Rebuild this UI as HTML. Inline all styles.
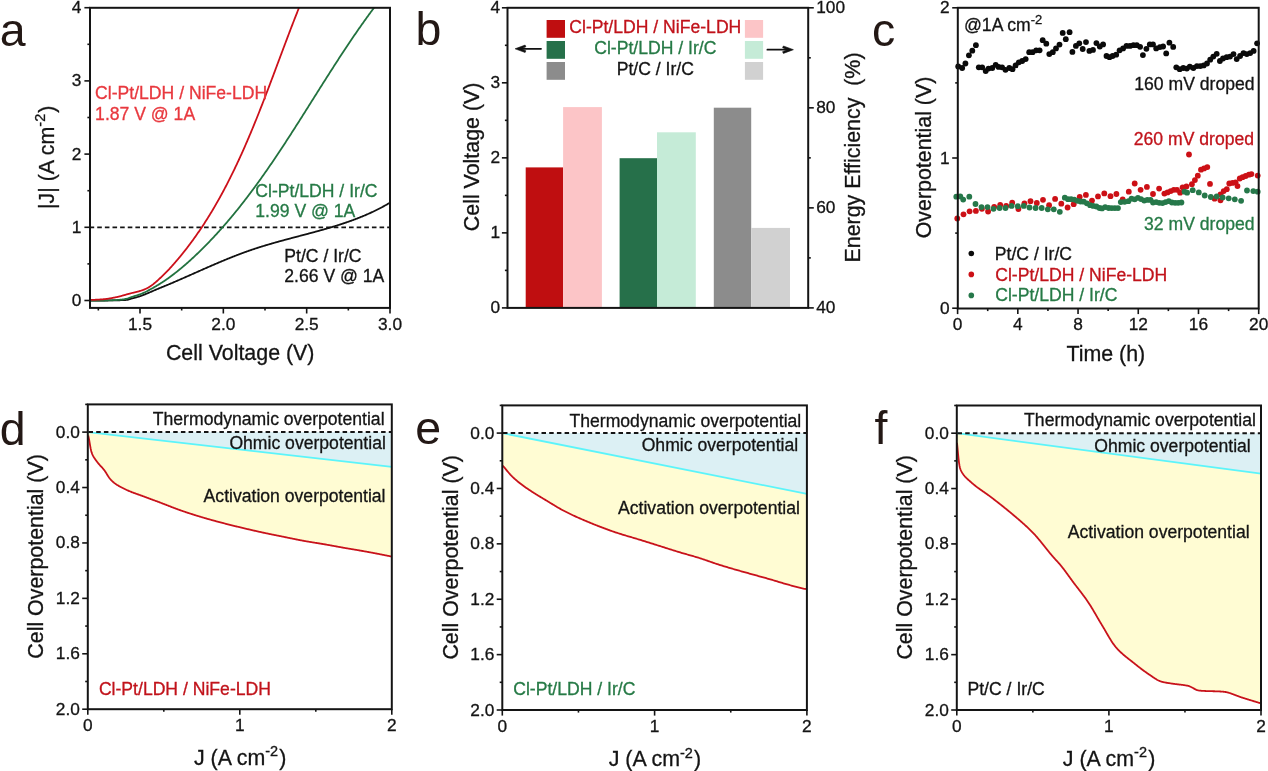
<!DOCTYPE html><html><head><meta charset="utf-8"><style>html,body{margin:0;padding:0;background:#fff;overflow:hidden}svg{display:block;will-change:transform}text{font-family:"Liberation Sans",sans-serif}</style></head><body>
<svg width="1268" height="771" viewBox="0 0 1268 771">
<rect width="1268" height="771" fill="#fff"/>
<text x="-0.3" y="46.1" font-size="46.5" text-anchor="start" fill="#231815" stroke="#231815" stroke-width="0" >a</text>
<line x1="89.6" y1="227.3" x2="390" y2="227.3" stroke="#141414" stroke-width="1.8" stroke-dasharray="4.6 3.03"/>
<defs><clipPath id="ca"><rect x="90" y="7.8" width="300" height="300.1"/></clipPath></defs><g clip-path="url(#ca)">
<path d="M90,300.6 L90.5,300.6 L91,300.6 L91.5,300.6 L92,300.6 L92.5,300.6 L93,300.6 L93.5,300.6 L94,300.6 L94.5,300.6 L95,300.6 L95.5,300.6 L96,300.6 L96.5,300.6 L97,300.6 L97.5,300.59 L98,300.59 L98.5,300.59 L99,300.59 L99.5,300.58 L100,300.58 L100.5,300.57 L101,300.57 L101.5,300.57 L102,300.56 L102.5,300.56 L103,300.55 L103.5,300.54 L104,300.54 L104.5,300.53 L105,300.53 L105.5,300.52 L106,300.51 L106.5,300.5 L107,300.5 L107.5,300.49 L108,300.48 L108.5,300.47 L109,300.46 L109.5,300.45 L110,300.44 L110.5,300.44 L111,300.43 L111.5,300.42 L112,300.41 L112.5,300.4 L113,300.39 L113.5,300.38 L114,300.37 L114.5,300.36 L115,300.35 L115.5,300.33 L116,300.32 L116.5,300.31 L117,300.3 L117.5,300.29 L118,300.28 L118.5,300.27 L119,300.26 L119.5,300.25 L120,300.23 L120.5,300.22 L121,300.21 L121.5,300.19 L122,300.17 L122.5,300.15 L123,300.13 L123.5,300.11 L124,300.09 L124.5,300.06 L125,300.03 L125.5,299.99 L126,299.95 L126.5,299.9 L127,299.83 L127.5,299.75 L128,299.65 L128.5,299.52 L129,299.38 L129.5,299.22 L130,299.06 L130.5,298.89 L131,298.73 L131.5,298.58 L132,298.43 L132.5,298.29 L133,298.16 L133.5,298.04 L134,297.91 L134.5,297.8 L135,297.68 L135.5,297.55 L136,297.41 L136.5,297.28 L137,297.14 L137.5,297 L138,296.86 L138.5,296.71 L139,296.56 L139.5,296.4 L140,296.24 L140.5,296.07 L141,295.89 L141.5,295.72 L142,295.53 L142.5,295.34 L143,295.15 L143.5,294.96 L144,294.76 L144.5,294.56 L145,294.35 L145.5,294.15 L146,293.94 L146.5,293.73 L147,293.52 L147.5,293.31 L148,293.1 L148.5,292.88 L149,292.67 L149.5,292.46 L150,292.24 L150.5,292.03 L151,291.81 L151.5,291.6 L152,291.38 L152.5,291.17 L153,290.95 L153.5,290.74 L154,290.52 L154.5,290.3 L155,290.09 L155.5,289.87 L156,289.65 L156.5,289.44 L157,289.22 L157.5,289.01 L158,288.8 L158.5,288.58 L159,288.37 L159.5,288.17 L160,287.96 L160.5,287.75 L161,287.55 L161.5,287.35 L162,287.15 L162.5,286.95 L163,286.75 L163.5,286.55 L164,286.35 L164.5,286.15 L165,285.95 L165.5,285.75 L166,285.54 L166.5,285.33 L167,285.13 L167.5,284.92 L168,284.71 L168.5,284.5 L169,284.29 L169.5,284.07 L170,283.86 L170.5,283.65 L171,283.44 L171.5,283.23 L172,283.01 L172.5,282.8 L173,282.58 L173.5,282.37 L174,282.15 L174.5,281.94 L175,281.72 L175.5,281.51 L176,281.29 L176.5,281.07 L177,280.86 L177.5,280.64 L178,280.42 L178.5,280.21 L179,279.99 L179.5,279.77 L180,279.55 L180.5,279.33 L181,279.11 L181.5,278.89 L182,278.68 L182.5,278.46 L183,278.24 L183.5,278.02 L184,277.8 L184.5,277.58 L185,277.36 L185.5,277.14 L186,276.91 L186.5,276.69 L187,276.47 L187.5,276.25 L188,276.03 L188.5,275.81 L189,275.59 L189.5,275.37 L190,275.14 L190.5,274.92 L191,274.7 L191.5,274.48 L192,274.26 L192.5,274.04 L193,273.81 L193.5,273.59 L194,273.37 L194.5,273.15 L195,272.93 L195.5,272.71 L196,272.48 L196.5,272.26 L197,272.04 L197.5,271.82 L198,271.6 L198.5,271.38 L199,271.15 L199.5,270.93 L200,270.71 L200.5,270.49 L201,270.27 L201.5,270.05 L202,269.83 L202.5,269.61 L203,269.39 L203.5,269.16 L204,268.94 L204.5,268.72 L205,268.5 L205.5,268.28 L206,268.06 L206.5,267.85 L207,267.63 L207.5,267.41 L208,267.19 L208.5,266.97 L209,266.75 L209.5,266.53 L210,266.32 L210.5,266.1 L211,265.88 L211.5,265.66 L212,265.45 L212.5,265.23 L213,265.01 L213.5,264.8 L214,264.58 L214.5,264.37 L215,264.15 L215.5,263.94 L216,263.72 L216.5,263.51 L217,263.3 L217.5,263.08 L218,262.87 L218.5,262.66 L219,262.45 L219.5,262.23 L220,262.02 L220.5,261.81 L221,261.6 L221.5,261.39 L222,261.18 L222.5,260.97 L223,260.76 L223.5,260.56 L224,260.35 L224.5,260.14 L225,259.94 L225.5,259.73 L226,259.52 L226.5,259.32 L227,259.11 L227.5,258.91 L228,258.71 L228.5,258.5 L229,258.3 L229.5,258.1 L230,257.9 L230.5,257.7 L231,257.5 L231.5,257.3 L232,257.1 L232.5,256.9 L233,256.7 L233.5,256.5 L234,256.31 L234.5,256.11 L235,255.91 L235.5,255.72 L236,255.53 L236.5,255.33 L237,255.14 L237.5,254.95 L238,254.75 L238.5,254.56 L239,254.37 L239.5,254.18 L240,254 L240.5,253.81 L241,253.62 L241.5,253.43 L242,253.25 L242.5,253.06 L243,252.88 L243.5,252.69 L244,252.51 L244.5,252.33 L245,252.15 L245.5,251.97 L246,251.79 L246.5,251.61 L247,251.43 L247.5,251.25 L248,251.07 L248.5,250.9 L249,250.72 L249.5,250.55 L250,250.38 L250.5,250.2 L251,250.03 L251.5,249.86 L252,249.69 L252.5,249.52 L253,249.35 L253.5,249.18 L254,249.02 L254.5,248.85 L255,248.69 L255.5,248.52 L256,248.36 L256.5,248.2 L257,248.03 L257.5,247.87 L258,247.71 L258.5,247.55 L259,247.39 L259.5,247.23 L260,247.08 L260.5,246.92 L261,246.76 L261.5,246.61 L262,246.45 L262.5,246.3 L263,246.14 L263.5,245.99 L264,245.84 L264.5,245.68 L265,245.53 L265.5,245.38 L266,245.23 L266.5,245.08 L267,244.93 L267.5,244.78 L268,244.64 L268.5,244.49 L269,244.34 L269.5,244.19 L270,244.05 L270.5,243.9 L271,243.76 L271.5,243.61 L272,243.47 L272.5,243.32 L273,243.18 L273.5,243.04 L274,242.9 L274.5,242.75 L275,242.61 L275.5,242.47 L276,242.33 L276.5,242.19 L277,242.05 L277.5,241.91 L278,241.77 L278.5,241.63 L279,241.49 L279.5,241.36 L280,241.22 L280.5,241.08 L281,240.94 L281.5,240.81 L282,240.67 L282.5,240.53 L283,240.4 L283.5,240.26 L284,240.13 L284.5,239.99 L285,239.86 L285.5,239.72 L286,239.59 L286.5,239.45 L287,239.32 L287.5,239.18 L288,239.05 L288.5,238.92 L289,238.78 L289.5,238.65 L290,238.52 L290.5,238.38 L291,238.25 L291.5,238.12 L292,237.98 L292.5,237.85 L293,237.72 L293.5,237.59 L294,237.46 L294.5,237.32 L295,237.19 L295.5,237.06 L296,236.93 L296.5,236.8 L297,236.66 L297.5,236.53 L298,236.4 L298.5,236.27 L299,236.14 L299.5,236 L300,235.87 L300.5,235.74 L301,235.61 L301.5,235.48 L302,235.35 L302.5,235.21 L303,235.08 L303.5,234.95 L304,234.82 L304.5,234.68 L305,234.55 L305.5,234.42 L306,234.29 L306.5,234.15 L307,234.02 L307.5,233.89 L308,233.76 L308.5,233.62 L309,233.49 L309.5,233.36 L310,233.22 L310.5,233.09 L311,232.95 L311.5,232.82 L312,232.68 L312.5,232.55 L313,232.41 L313.5,232.28 L314,232.14 L314.5,232.01 L315,231.87 L315.5,231.74 L316,231.6 L316.5,231.46 L317,231.33 L317.5,231.19 L318,231.05 L318.5,230.91 L319,230.77 L319.5,230.63 L320,230.49 L320.5,230.36 L321,230.22 L321.5,230.08 L322,229.93 L322.5,229.79 L323,229.65 L323.5,229.51 L324,229.37 L324.5,229.22 L325,229.08 L325.5,228.94 L326,228.79 L326.5,228.65 L327,228.5 L327.5,228.36 L328,228.21 L328.5,228.07 L329,227.92 L329.5,227.77 L330,227.62 L330.5,227.47 L331,227.32 L331.5,227.17 L332,227.02 L332.5,226.87 L333,226.72 L333.5,226.57 L334,226.42 L334.5,226.26 L335,226.11 L335.5,225.95 L336,225.8 L336.5,225.64 L337,225.49 L337.5,225.33 L338,225.17 L338.5,225.01 L339,224.85 L339.5,224.69 L340,224.53 L340.5,224.37 L341,224.21 L341.5,224.04 L342,223.88 L342.5,223.71 L343,223.55 L343.5,223.38 L344,223.22 L344.5,223.05 L345,222.88 L345.5,222.71 L346,222.54 L346.5,222.37 L347,222.19 L347.5,222.02 L348,221.85 L348.5,221.67 L349,221.5 L349.5,221.32 L350,221.14 L350.5,220.96 L351,220.78 L351.5,220.6 L352,220.42 L352.5,220.24 L353,220.05 L353.5,219.87 L354,219.68 L354.5,219.5 L355,219.31 L355.5,219.12 L356,218.93 L356.5,218.74 L357,218.54 L357.5,218.35 L358,218.16 L358.5,217.96 L359,217.76 L359.5,217.56 L360,217.36 L360.5,217.16 L361,216.96 L361.5,216.76 L362,216.55 L362.5,216.35 L363,216.14 L363.5,215.93 L364,215.72 L364.5,215.51 L365,215.3 L365.5,215.09 L366,214.87 L366.5,214.66 L367,214.44 L367.5,214.22 L368,214 L368.5,213.78 L369,213.55 L369.5,213.33 L370,213.1 L370.5,212.88 L371,212.65 L371.5,212.42 L372,212.18 L372.5,211.95 L373,211.71 L373.5,211.48 L374,211.24 L374.5,211 L375,210.76 L375.5,210.51 L376,210.27 L376.5,210.02 L377,209.77 L377.5,209.52 L378,209.27 L378.5,209.02 L379,208.76 L379.5,208.5 L380,208.24 L380.5,207.98 L381,207.72 L381.5,207.46 L382,207.19 L382.5,206.92 L383,206.65 L383.5,206.38 L384,206.1 L384.5,205.83 L385,205.55 L385.5,205.27 L386,204.99 L386.5,204.7 L387,204.42 L387.5,204.13 L388,203.84 L388.5,203.54 L389,203.25 L389.5,202.95 L390,202.65 L390.5,202.35 L391,202.05 L391.5,201.74 L392,201.43 L392.5,201.12 L393,200.81 L393.5,200.49 L394,200.18 L394.5,199.85 L395,199.53 L395.5,199.21 L396,198.88 L396.5,198.55 L397,198.22 L397.5,197.88 L398,197.54 L398.5,197.2 L399,196.86 L399.5,196.51 L400,196.17 L400.5,195.81 L401,195.46 L401.5,195.1 L402,194.74" fill="none" stroke="#111" stroke-width="1.8" stroke-linejoin="round"/>
<path d="M90,300.6 L90.5,300.6 L91,300.6 L91.5,300.6 L92,300.6 L92.5,300.6 L93,300.6 L93.5,300.6 L94,300.6 L94.5,300.6 L95,300.6 L95.5,300.6 L96,300.6 L96.5,300.59 L97,300.59 L97.5,300.59 L98,300.58 L98.5,300.58 L99,300.58 L99.5,300.57 L100,300.56 L100.5,300.56 L101,300.55 L101.5,300.54 L102,300.53 L102.5,300.53 L103,300.52 L103.5,300.51 L104,300.5 L104.5,300.49 L105,300.48 L105.5,300.46 L106,300.45 L106.5,300.44 L107,300.43 L107.5,300.41 L108,300.4 L108.5,300.39 L109,300.37 L109.5,300.36 L110,300.35 L110.5,300.33 L111,300.31 L111.5,300.3 L112,300.28 L112.5,300.26 L113,300.24 L113.5,300.22 L114,300.2 L114.5,300.17 L115,300.14 L115.5,300.11 L116,300.08 L116.5,300.05 L117,300.01 L117.5,299.97 L118,299.94 L118.5,299.89 L119,299.85 L119.5,299.81 L120,299.76 L120.5,299.71 L121,299.66 L121.5,299.61 L122,299.55 L122.5,299.49 L123,299.43 L123.5,299.35 L124,299.28 L124.5,299.19 L125,299.1 L125.5,299 L126,298.89 L126.5,298.77 L127,298.64 L127.5,298.5 L128,298.35 L128.5,298.18 L129,298 L129.5,297.82 L130,297.63 L130.5,297.45 L131,297.27 L131.5,297.09 L132,296.92 L132.5,296.75 L133,296.59 L133.5,296.43 L134,296.28 L134.5,296.12 L135,295.97 L135.5,295.82 L136,295.67 L136.5,295.51 L137,295.36 L137.5,295.2 L138,295.04 L138.5,294.87 L139,294.7 L139.5,294.53 L140,294.35 L140.5,294.16 L141,293.97 L141.5,293.77 L142,293.56 L142.5,293.35 L143,293.13 L143.5,292.91 L144,292.68 L144.5,292.45 L145,292.21 L145.5,291.96 L146,291.7 L146.5,291.45 L147,291.19 L147.5,290.92 L148,290.66 L148.5,290.39 L149,290.12 L149.5,289.85 L150,289.58 L150.5,289.31 L151,289.03 L151.5,288.76 L152,288.48 L152.5,288.2 L153,287.92 L153.5,287.64 L154,287.36 L154.5,287.07 L155,286.78 L155.5,286.49 L156,286.19 L156.5,285.89 L157,285.59 L157.5,285.29 L158,284.99 L158.5,284.68 L159,284.37 L159.5,284.06 L160,283.75 L160.5,283.43 L161,283.11 L161.5,282.79 L162,282.47 L162.5,282.14 L163,281.82 L163.5,281.49 L164,281.16 L164.5,280.82 L165,280.48 L165.5,280.14 L166,279.8 L166.5,279.45 L167,279.11 L167.5,278.75 L168,278.4 L168.5,278.04 L169,277.68 L169.5,277.32 L170,276.96 L170.5,276.59 L171,276.22 L171.5,275.84 L172,275.47 L172.5,275.09 L173,274.71 L173.5,274.32 L174,273.93 L174.5,273.54 L175,273.15 L175.5,272.76 L176,272.37 L176.5,271.98 L177,271.58 L177.5,271.19 L178,270.79 L178.5,270.38 L179,269.98 L179.5,269.57 L180,269.16 L180.5,268.75 L181,268.34 L181.5,267.92 L182,267.5 L182.5,267.08 L183,266.66 L183.5,266.23 L184,265.81 L184.5,265.38 L185,264.95 L185.5,264.51 L186,264.08 L186.5,263.64 L187,263.2 L187.5,262.76 L188,262.31 L188.5,261.87 L189,261.42 L189.5,260.97 L190,260.52 L190.5,260.07 L191,259.61 L191.5,259.15 L192,258.69 L192.5,258.23 L193,257.77 L193.5,257.3 L194,256.84 L194.5,256.37 L195,255.9 L195.5,255.43 L196,254.95 L196.5,254.48 L197,254 L197.5,253.52 L198,253.04 L198.5,252.56 L199,252.08 L199.5,251.59 L200,251.1 L200.5,250.62 L201,250.13 L201.5,249.63 L202,249.14 L202.5,248.64 L203,248.15 L203.5,247.65 L204,247.15 L204.5,246.64 L205,246.14 L205.5,245.63 L206,245.13 L206.5,244.62 L207,244.11 L207.5,243.59 L208,243.08 L208.5,242.56 L209,242.05 L209.5,241.53 L210,241 L210.5,240.48 L211,239.96 L211.5,239.43 L212,238.9 L212.5,238.37 L213,237.84 L213.5,237.3 L214,236.77 L214.5,236.23 L215,235.69 L215.5,235.15 L216,234.61 L216.5,234.06 L217,233.52 L217.5,232.97 L218,232.42 L218.5,231.87 L219,231.31 L219.5,230.76 L220,230.2 L220.5,229.64 L221,229.08 L221.5,228.52 L222,227.96 L222.5,227.39 L223,226.82 L223.5,226.25 L224,225.68 L224.5,225.11 L225,224.53 L225.5,223.96 L226,223.38 L226.5,222.8 L227,222.21 L227.5,221.63 L228,221.04 L228.5,220.46 L229,219.87 L229.5,219.28 L230,218.68 L230.5,218.09 L231,217.49 L231.5,216.89 L232,216.29 L232.5,215.69 L233,215.09 L233.5,214.48 L234,213.87 L234.5,213.26 L235,212.65 L235.5,212.04 L236,211.43 L236.5,210.81 L237,210.19 L237.5,209.57 L238,208.95 L238.5,208.33 L239,207.7 L239.5,207.07 L240,206.44 L240.5,205.81 L241,205.18 L241.5,204.55 L242,203.91 L242.5,203.27 L243,202.63 L243.5,201.99 L244,201.35 L244.5,200.7 L245,200.06 L245.5,199.41 L246,198.76 L246.5,198.11 L247,197.45 L247.5,196.8 L248,196.14 L248.5,195.48 L249,194.82 L249.5,194.16 L250,193.49 L250.5,192.83 L251,192.16 L251.5,191.49 L252,190.82 L252.5,190.15 L253,189.47 L253.5,188.8 L254,188.12 L254.5,187.44 L255,186.76 L255.5,186.08 L256,185.39 L256.5,184.71 L257,184.02 L257.5,183.33 L258,182.64 L258.5,181.95 L259,181.25 L259.5,180.56 L260,179.86 L260.5,179.16 L261,178.46 L261.5,177.76 L262,177.06 L262.5,176.35 L263,175.64 L263.5,174.94 L264,174.23 L264.5,173.51 L265,172.8 L265.5,172.09 L266,171.37 L266.5,170.65 L267,169.93 L267.5,169.21 L268,168.49 L268.5,167.77 L269,167.04 L269.5,166.32 L270,165.59 L270.5,164.86 L271,164.13 L271.5,163.4 L272,162.67 L272.5,161.93 L273,161.2 L273.5,160.46 L274,159.72 L274.5,158.98 L275,158.24 L275.5,157.5 L276,156.75 L276.5,156.01 L277,155.26 L277.5,154.51 L278,153.77 L278.5,153.02 L279,152.26 L279.5,151.51 L280,150.76 L280.5,150 L281,149.25 L281.5,148.49 L282,147.73 L282.5,146.97 L283,146.21 L283.5,145.45 L284,144.69 L284.5,143.93 L285,143.16 L285.5,142.39 L286,141.63 L286.5,140.86 L287,140.09 L287.5,139.32 L288,138.55 L288.5,137.78 L289,137.01 L289.5,136.23 L290,135.46 L290.5,134.69 L291,133.91 L291.5,133.13 L292,132.36 L292.5,131.58 L293,130.8 L293.5,130.02 L294,129.24 L294.5,128.46 L295,127.68 L295.5,126.89 L296,126.11 L296.5,125.33 L297,124.54 L297.5,123.76 L298,122.97 L298.5,122.18 L299,121.4 L299.5,120.61 L300,119.82 L300.5,119.03 L301,118.24 L301.5,117.45 L302,116.66 L302.5,115.87 L303,115.08 L303.5,114.29 L304,113.5 L304.5,112.71 L305,111.92 L305.5,111.12 L306,110.33 L306.5,109.54 L307,108.75 L307.5,107.95 L308,107.16 L308.5,106.36 L309,105.57 L309.5,104.78 L310,103.98 L310.5,103.19 L311,102.39 L311.5,101.6 L312,100.8 L312.5,100.01 L313,99.21 L313.5,98.42 L314,97.62 L314.5,96.83 L315,96.03 L315.5,95.24 L316,94.45 L316.5,93.65 L317,92.86 L317.5,92.06 L318,91.27 L318.5,90.48 L319,89.68 L319.5,88.89 L320,88.1 L320.5,87.3 L321,86.51 L321.5,85.72 L322,84.93 L322.5,84.14 L323,83.35 L323.5,82.56 L324,81.77 L324.5,80.98 L325,80.19 L325.5,79.4 L326,78.61 L326.5,77.82 L327,77.04 L327.5,76.25 L328,75.47 L328.5,74.68 L329,73.9 L329.5,73.11 L330,72.33 L330.5,71.55 L331,70.76 L331.5,69.98 L332,69.2 L332.5,68.42 L333,67.64 L333.5,66.87 L334,66.09 L334.5,65.31 L335,64.54 L335.5,63.76 L336,62.99 L336.5,62.21 L337,61.44 L337.5,60.67 L338,59.9 L338.5,59.13 L339,58.36 L339.5,57.59 L340,56.83 L340.5,56.06 L341,55.3 L341.5,54.53 L342,53.77 L342.5,53.01 L343,52.25 L343.5,51.49 L344,50.73 L344.5,49.98 L345,49.22 L345.5,48.47 L346,47.71 L346.5,46.96 L347,46.21 L347.5,45.46 L348,44.71 L348.5,43.97 L349,43.22 L349.5,42.47 L350,41.73 L350.5,40.99 L351,40.25 L351.5,39.51 L352,38.77 L352.5,38.04 L353,37.3 L353.5,36.57 L354,35.83 L354.5,35.1 L355,34.37 L355.5,33.65 L356,32.92 L356.5,32.19 L357,31.47 L357.5,30.75 L358,30.03 L358.5,29.31 L359,28.59 L359.5,27.87 L360,27.16 L360.5,26.44 L361,25.73 L361.5,25.02 L362,24.31 L362.5,23.61 L363,22.9 L363.5,22.2 L364,21.5 L364.5,20.79 L365,20.1 L365.5,19.4 L366,18.7 L366.5,18.01 L367,17.32 L367.5,16.63 L368,15.94 L368.5,15.25 L369,14.56 L369.5,13.88 L370,13.2 L370.5,12.52 L371,11.84 L371.5,11.16 L372,10.48 L372.5,9.81 L373,9.14 L373.5,8.47 L374,7.8 L374.5,7.13 L375,6.47 L375.5,5.8 L376,5.14 L376.5,4.48 L377,3.82 L377.5,3.17 L378,2.51 L378.5,1.86 L379,1.21 L379.5,0.56 L380,-0.09 L380.5,-0.73 L381,-1.38 L381.5,-2.02 L382,-2.66 L382.5,-3.3 L383,-3.93 L383.5,-4.57 L384,-5.2 L384.5,-5.83 L385,-6.46" fill="none" stroke="#22723f" stroke-width="1.8" stroke-linejoin="round"/>
<path d="M90,299.98 L90.5,299.97 L91,299.96 L91.5,299.94 L92,299.93 L92.5,299.91 L93,299.89 L93.5,299.87 L94,299.84 L94.5,299.82 L95,299.8 L95.5,299.77 L96,299.75 L96.5,299.72 L97,299.69 L97.5,299.66 L98,299.63 L98.5,299.6 L99,299.57 L99.5,299.54 L100,299.5 L100.5,299.47 L101,299.43 L101.5,299.4 L102,299.36 L102.5,299.32 L103,299.28 L103.5,299.23 L104,299.19 L104.5,299.14 L105,299.09 L105.5,299.04 L106,298.98 L106.5,298.92 L107,298.86 L107.5,298.79 L108,298.71 L108.5,298.64 L109,298.55 L109.5,298.47 L110,298.38 L110.5,298.3 L111,298.21 L111.5,298.12 L112,298.02 L112.5,297.93 L113,297.84 L113.5,297.74 L114,297.64 L114.5,297.54 L115,297.44 L115.5,297.34 L116,297.23 L116.5,297.12 L117,297.01 L117.5,296.9 L118,296.78 L118.5,296.66 L119,296.54 L119.5,296.41 L120,296.28 L120.5,296.16 L121,296.02 L121.5,295.89 L122,295.75 L122.5,295.62 L123,295.48 L123.5,295.34 L124,295.19 L124.5,295.05 L125,294.9 L125.5,294.76 L126,294.61 L126.5,294.47 L127,294.32 L127.5,294.18 L128,294.04 L128.5,293.9 L129,293.77 L129.5,293.64 L130,293.51 L130.5,293.38 L131,293.25 L131.5,293.13 L132,293 L132.5,292.88 L133,292.76 L133.5,292.64 L134,292.52 L134.5,292.4 L135,292.28 L135.5,292.16 L136,292.03 L136.5,291.91 L137,291.78 L137.5,291.66 L138,291.53 L138.5,291.4 L139,291.27 L139.5,291.13 L140,290.98 L140.5,290.83 L141,290.68 L141.5,290.51 L142,290.34 L142.5,290.16 L143,289.98 L143.5,289.79 L144,289.59 L144.5,289.39 L145,289.18 L145.5,288.95 L146,288.72 L146.5,288.48 L147,288.23 L147.5,287.97 L148,287.7 L148.5,287.42 L149,287.13 L149.5,286.83 L150,286.51 L150.5,286.18 L151,285.84 L151.5,285.49 L152,285.12 L152.5,284.75 L153,284.37 L153.5,283.97 L154,283.57 L154.5,283.16 L155,282.74 L155.5,282.32 L156,281.89 L156.5,281.45 L157,281.01 L157.5,280.56 L158,280.11 L158.5,279.65 L159,279.18 L159.5,278.71 L160,278.24 L160.5,277.76 L161,277.28 L161.5,276.79 L162,276.31 L162.5,275.84 L163,275.37 L163.5,274.89 L164,274.41 L164.5,273.92 L165,273.42 L165.5,272.92 L166,272.42 L166.5,271.91 L167,271.4 L167.5,270.88 L168,270.35 L168.5,269.83 L169,269.29 L169.5,268.76 L170,268.22 L170.5,267.67 L171,267.12 L171.5,266.57 L172,266.01 L172.5,265.45 L173,264.89 L173.5,264.32 L174,263.76 L174.5,263.18 L175,262.61 L175.5,262.03 L176,261.45 L176.5,260.87 L177,260.28 L177.5,259.69 L178,259.1 L178.5,258.51 L179,257.91 L179.5,257.31 L180,256.71 L180.5,256.1 L181,255.49 L181.5,254.88 L182,254.26 L182.5,253.64 L183,253.02 L183.5,252.4 L184,251.77 L184.5,251.14 L185,250.5 L185.5,249.87 L186,249.23 L186.5,248.58 L187,247.94 L187.5,247.29 L188,246.63 L188.5,245.98 L189,245.32 L189.5,244.65 L190,243.99 L190.5,243.32 L191,242.65 L191.5,241.97 L192,241.29 L192.5,240.61 L193,239.92 L193.5,239.23 L194,238.54 L194.5,237.84 L195,237.14 L195.5,236.43 L196,235.73 L196.5,235.01 L197,234.3 L197.5,233.58 L198,232.86 L198.5,232.13 L199,231.4 L199.5,230.67 L200,229.94 L200.5,229.19 L201,228.45 L201.5,227.7 L202,226.95 L202.5,226.2 L203,225.44 L203.5,224.67 L204,223.91 L204.5,223.14 L205,222.36 L205.5,221.58 L206,220.8 L206.5,220.01 L207,219.22 L207.5,218.43 L208,217.63 L208.5,216.83 L209,216.02 L209.5,215.21 L210,214.39 L210.5,213.57 L211,212.75 L211.5,211.92 L212,211.09 L212.5,210.26 L213,209.42 L213.5,208.57 L214,207.72 L214.5,206.87 L215,206.01 L215.5,205.15 L216,204.29 L216.5,203.42 L217,202.54 L217.5,201.66 L218,200.78 L218.5,199.89 L219,199 L219.5,198.1 L220,197.2 L220.5,196.3 L221,195.39 L221.5,194.47 L222,193.55 L222.5,192.63 L223,191.7 L223.5,190.77 L224,189.83 L224.5,188.89 L225,187.94 L225.5,186.99 L226,186.04 L226.5,185.07 L227,184.11 L227.5,183.14 L228,182.16 L228.5,181.18 L229,180.2 L229.5,179.21 L230,178.22 L230.5,177.22 L231,176.21 L231.5,175.21 L232,174.19 L232.5,173.17 L233,172.15 L233.5,171.12 L234,170.09 L234.5,169.05 L235,168.01 L235.5,166.97 L236,165.91 L236.5,164.86 L237,163.8 L237.5,162.73 L238,161.66 L238.5,160.58 L239,159.5 L239.5,158.42 L240,157.33 L240.5,156.23 L241,155.13 L241.5,154.02 L242,152.92 L242.5,151.8 L243,150.68 L243.5,149.56 L244,148.43 L244.5,147.29 L245,146.16 L245.5,145.01 L246,143.87 L246.5,142.71 L247,141.56 L247.5,140.39 L248,139.23 L248.5,138.06 L249,136.88 L249.5,135.7 L250,134.52 L250.5,133.33 L251,132.14 L251.5,130.94 L252,129.74 L252.5,128.53 L253,127.32 L253.5,126.11 L254,124.89 L254.5,123.66 L255,122.44 L255.5,121.21 L256,119.97 L256.5,118.73 L257,117.49 L257.5,116.24 L258,114.99 L258.5,113.74 L259,112.48 L259.5,111.22 L260,109.95 L260.5,108.68 L261,107.41 L261.5,106.13 L262,104.86 L262.5,103.57 L263,102.29 L263.5,101 L264,99.71 L264.5,98.42 L265,97.12 L265.5,95.82 L266,94.52 L266.5,93.21 L267,91.91 L267.5,90.6 L268,89.28 L268.5,87.97 L269,86.65 L269.5,85.34 L270,84.02 L270.5,82.69 L271,81.37 L271.5,80.05 L272,78.72 L272.5,77.39 L273,76.06 L273.5,74.73 L274,73.4 L274.5,72.07 L275,70.73 L275.5,69.4 L276,68.06 L276.5,66.73 L277,65.39 L277.5,64.05 L278,62.72 L278.5,61.38 L279,60.04 L279.5,58.71 L280,57.37 L280.5,56.03 L281,54.7 L281.5,53.36 L282,52.03 L282.5,50.69 L283,49.36 L283.5,48.03 L284,46.7 L284.5,45.37 L285,44.04 L285.5,42.71 L286,41.38 L286.5,40.06 L287,38.74 L287.5,37.42 L288,36.1 L288.5,34.78 L289,33.47 L289.5,32.16 L290,30.85 L290.5,29.54 L291,28.23 L291.5,26.93 L292,25.63 L292.5,24.33 L293,23.04 L293.5,21.75 L294,20.46 L294.5,19.18 L295,17.9 L295.5,16.62 L296,15.34 L296.5,14.07 L297,12.81 L297.5,11.54 L298,10.28 L298.5,9.03 L299,7.77 L299.5,6.53 L300,5.28 L300.5,4.04 L301,2.81 L301.5,1.58 L302,0.35 L302.5,-0.88 L303,-2.09 L303.5,-3.31 L304,-4.52 L304.5,-5.72 L305,-6.92" fill="none" stroke="#cc101a" stroke-width="1.8" stroke-linejoin="round"/>
</g>
<rect x="90" y="7.8" width="300" height="300.1" fill="none" stroke="#141414" stroke-width="2"/>
<line x1="90" y1="300.5" x2="84.4" y2="300.5" stroke="#141414" stroke-width="1.6" />
<text x="81.3" y="306" font-size="17.3" text-anchor="end" fill="#141414" stroke="#141414" stroke-width="0.3" >0</text>
<line x1="90" y1="227.3" x2="84.4" y2="227.3" stroke="#141414" stroke-width="1.6" />
<text x="81.3" y="232.8" font-size="17.3" text-anchor="end" fill="#141414" stroke="#141414" stroke-width="0.3" >1</text>
<line x1="90" y1="154.1" x2="84.4" y2="154.1" stroke="#141414" stroke-width="1.6" />
<text x="81.3" y="159.6" font-size="17.3" text-anchor="end" fill="#141414" stroke="#141414" stroke-width="0.3" >2</text>
<line x1="90" y1="80.9" x2="84.4" y2="80.9" stroke="#141414" stroke-width="1.6" />
<text x="81.3" y="86.4" font-size="17.3" text-anchor="end" fill="#141414" stroke="#141414" stroke-width="0.3" >3</text>
<line x1="90" y1="7.7" x2="84.4" y2="7.7" stroke="#141414" stroke-width="1.6" />
<text x="81.3" y="13.2" font-size="17.3" text-anchor="end" fill="#141414" stroke="#141414" stroke-width="0.3" >4</text>
<line x1="90" y1="263.9" x2="87.4" y2="263.9" stroke="#141414" stroke-width="1.6" />
<line x1="90" y1="190.7" x2="87.4" y2="190.7" stroke="#141414" stroke-width="1.6" />
<line x1="90" y1="117.5" x2="87.4" y2="117.5" stroke="#141414" stroke-width="1.6" />
<line x1="90" y1="44.3" x2="87.4" y2="44.3" stroke="#141414" stroke-width="1.6" />
<line x1="140" y1="307.9" x2="140" y2="313.5" stroke="#141414" stroke-width="1.6" />
<text x="140" y="329.6" font-size="17.3" text-anchor="middle" fill="#141414" stroke="#141414" stroke-width="0.3" >1.5</text>
<line x1="223.33" y1="307.9" x2="223.33" y2="313.5" stroke="#141414" stroke-width="1.6" />
<text x="223.33" y="329.6" font-size="17.3" text-anchor="middle" fill="#141414" stroke="#141414" stroke-width="0.3" >2.0</text>
<line x1="306.67" y1="307.9" x2="306.67" y2="313.5" stroke="#141414" stroke-width="1.6" />
<text x="306.67" y="329.6" font-size="17.3" text-anchor="middle" fill="#141414" stroke="#141414" stroke-width="0.3" >2.5</text>
<line x1="390" y1="307.9" x2="390" y2="313.5" stroke="#141414" stroke-width="1.6" />
<text x="390" y="329.6" font-size="17.3" text-anchor="middle" fill="#141414" stroke="#141414" stroke-width="0.3" >3.0</text>
<line x1="98.33" y1="307.9" x2="98.33" y2="310.5" stroke="#141414" stroke-width="1.6" />
<line x1="181.67" y1="307.9" x2="181.67" y2="310.5" stroke="#141414" stroke-width="1.6" />
<line x1="265" y1="307.9" x2="265" y2="310.5" stroke="#141414" stroke-width="1.6" />
<line x1="348.33" y1="307.9" x2="348.33" y2="310.5" stroke="#141414" stroke-width="1.6" />
<text x="240.2" y="360.2" font-size="21.4" text-anchor="middle" fill="#141414" stroke="#141414" stroke-width="0.3" >Cell Voltage (V)</text>
<text transform="translate(53.6,209.1) rotate(-90)" font-size="21.4" text-anchor="start" fill="#141414" stroke="#141414" stroke-width="0.3">|J| (A cm<tspan font-size="14.5" dy="-9">-2</tspan><tspan dy="9" dx="1">)</tspan></text>
<text x="95.1" y="99.4" font-size="17.6" text-anchor="start" fill="#e8383e" stroke="#e8383e" stroke-width="0.3" >Cl-Pt/LDH / NiFe-LDH</text>
<text x="95.1" y="120.1" font-size="17.6" text-anchor="start" fill="#e8383e" stroke="#e8383e" stroke-width="0.3" >1.87 V @ 1A</text>
<text x="255.3" y="196.9" font-size="17.6" text-anchor="start" fill="#267a46" stroke="#267a46" stroke-width="0.3" >Cl-Pt/LDH / Ir/C</text>
<text x="255.3" y="217.1" font-size="17.6" text-anchor="start" fill="#267a46" stroke="#267a46" stroke-width="0.3" >1.99 V @ 1A</text>
<text x="284.3" y="261.7" font-size="17.6" text-anchor="start" fill="#141414" stroke="#141414" stroke-width="0.3" >Pt/C / Ir/C</text>
<text x="284.3" y="282.4" font-size="17.6" text-anchor="start" fill="#141414" stroke="#141414" stroke-width="0.3" >2.66 V @ 1A</text>
<text x="415.6" y="45.2" font-size="46.5" text-anchor="start" fill="#231815" stroke="#231815" stroke-width="0" >b</text>
<rect x="525.7" y="167.4" width="37.4" height="140.5" fill="#bf0e10"/>
<rect x="563.1" y="107.1" width="38.8" height="200.8" fill="#fcc5c7"/>
<rect x="619.6" y="158.2" width="37.4" height="149.7" fill="#26704a"/>
<rect x="657" y="132.3" width="38.8" height="175.6" fill="#c5ebd7"/>
<rect x="713.8" y="107.7" width="37.4" height="200.2" fill="#8c8c8c"/>
<rect x="751.2" y="227.9" width="38.8" height="80" fill="#d1d1d1"/>
<rect x="507.5" y="7.8" width="300.7" height="300.1" fill="none" stroke="#141414" stroke-width="2"/>
<line x1="507.5" y1="307.9" x2="501.9" y2="307.9" stroke="#141414" stroke-width="1.6" />
<text x="500" y="313.4" font-size="17.3" text-anchor="end" fill="#141414" stroke="#141414" stroke-width="0.3" >0</text>
<line x1="507.5" y1="232.87" x2="501.9" y2="232.87" stroke="#141414" stroke-width="1.6" />
<text x="500" y="238.37" font-size="17.3" text-anchor="end" fill="#141414" stroke="#141414" stroke-width="0.3" >1</text>
<line x1="507.5" y1="157.85" x2="501.9" y2="157.85" stroke="#141414" stroke-width="1.6" />
<text x="500" y="163.35" font-size="17.3" text-anchor="end" fill="#141414" stroke="#141414" stroke-width="0.3" >2</text>
<line x1="507.5" y1="82.82" x2="501.9" y2="82.82" stroke="#141414" stroke-width="1.6" />
<text x="500" y="88.32" font-size="17.3" text-anchor="end" fill="#141414" stroke="#141414" stroke-width="0.3" >3</text>
<line x1="507.5" y1="7.8" x2="501.9" y2="7.8" stroke="#141414" stroke-width="1.6" />
<text x="500" y="13.3" font-size="17.3" text-anchor="end" fill="#141414" stroke="#141414" stroke-width="0.3" >4</text>
<line x1="507.5" y1="270.39" x2="504.9" y2="270.39" stroke="#141414" stroke-width="1.6" />
<line x1="507.5" y1="195.36" x2="504.9" y2="195.36" stroke="#141414" stroke-width="1.6" />
<line x1="507.5" y1="120.34" x2="504.9" y2="120.34" stroke="#141414" stroke-width="1.6" />
<line x1="507.5" y1="45.31" x2="504.9" y2="45.31" stroke="#141414" stroke-width="1.6" />
<line x1="808.2" y1="307.9" x2="813.8" y2="307.9" stroke="#141414" stroke-width="1.6" />
<text x="816.2" y="313.4" font-size="17.3" text-anchor="start" fill="#141414" stroke="#141414" stroke-width="0.3" >40</text>
<line x1="808.2" y1="207.87" x2="813.8" y2="207.87" stroke="#141414" stroke-width="1.6" />
<text x="816.2" y="213.37" font-size="17.3" text-anchor="start" fill="#141414" stroke="#141414" stroke-width="0.3" >60</text>
<line x1="808.2" y1="107.83" x2="813.8" y2="107.83" stroke="#141414" stroke-width="1.6" />
<text x="816.2" y="113.33" font-size="17.3" text-anchor="start" fill="#141414" stroke="#141414" stroke-width="0.3" >80</text>
<line x1="808.2" y1="7.8" x2="813.8" y2="7.8" stroke="#141414" stroke-width="1.6" />
<text x="816.2" y="13.3" font-size="17.3" text-anchor="start" fill="#141414" stroke="#141414" stroke-width="0.3" >100</text>
<line x1="808.2" y1="257.88" x2="810.8" y2="257.88" stroke="#141414" stroke-width="1.6" />
<line x1="808.2" y1="157.85" x2="810.8" y2="157.85" stroke="#141414" stroke-width="1.6" />
<line x1="808.2" y1="57.81" x2="810.8" y2="57.81" stroke="#141414" stroke-width="1.6" />
<rect x="546.6" y="20" width="18.4" height="17.8" fill="#bf0e10"/>
<rect x="744.9" y="20" width="18.2" height="17.8" fill="#fcc5c7"/>
<rect x="546.6" y="41" width="18.4" height="17.8" fill="#26704a"/>
<rect x="744.9" y="41" width="18.2" height="17.8" fill="#c5ebd7"/>
<rect x="546.6" y="62" width="18.4" height="17.8" fill="#8c8c8c"/>
<rect x="744.9" y="62" width="18.2" height="17.8" fill="#d1d1d1"/>
<text x="655.3" y="32.9" font-size="17.6" text-anchor="middle" fill="#c1131b" stroke="#c1131b" stroke-width="0.3" >Cl-Pt/LDH / NiFe-LDH</text>
<text x="655.3" y="53.6" font-size="17.6" text-anchor="middle" fill="#267a46" stroke="#267a46" stroke-width="0.3" >Cl-Pt/LDH / Ir/C</text>
<text x="655.3" y="74.5" font-size="17.6" text-anchor="middle" fill="#141414" stroke="#141414" stroke-width="0.3" >Pt/C / Ir/C</text>
<path d="M541,48.8 H519" fill="none" stroke="#111" stroke-width="1.8" stroke-linecap="round"/>
<path d="M515.1,48.8 L525.1,45.1 L525.9,46.8 L521.3,48.8 L525.9,50.8 L525.1,52.5 Z" fill="#111" stroke="#111" stroke-width="0.6" stroke-linejoin="round"/>
<path d="M767.4,49.7 H789" fill="none" stroke="#111" stroke-width="1.8" stroke-linecap="round"/>
<path d="M793.4,49.7 L783.4,46 L782.6,47.7 L787.2,49.7 L782.6,51.7 L783.4,53.4 Z" fill="#111" stroke="#111" stroke-width="0.6" stroke-linejoin="round"/>
<text transform="translate(478.7,156.9) rotate(-90)" font-size="21.4" text-anchor="middle" fill="#141414" stroke="#141414" stroke-width="0.3">Cell Voltage (V)</text>
<text transform="translate(860,157.5) rotate(-90)" font-size="21.4" text-anchor="middle" fill="#141414" stroke="#141414" stroke-width="0.3">Energy Efficiency&#160;&#160;(%)</text>
<text x="872" y="45.6" font-size="46.5" text-anchor="start" fill="#231815" stroke="#231815" stroke-width="0" >c</text>
<g fill="#0a0a0a"><circle cx="958.2" cy="66.4" r="2.9"/><circle cx="962.2" cy="68" r="2.9"/><circle cx="965.4" cy="63.5" r="2.9"/><circle cx="968.9" cy="55.3" r="2.9"/><circle cx="972.3" cy="50.7" r="2.9"/><circle cx="975.9" cy="45.2" r="2.9"/><circle cx="978.8" cy="67.3" r="2.9"/><circle cx="982.2" cy="67.3" r="2.9"/><circle cx="985.7" cy="71.1" r="2.9"/><circle cx="988.5" cy="68.6" r="2.9"/><circle cx="992.3" cy="68" r="2.9"/><circle cx="995.7" cy="64.8" r="2.9"/><circle cx="998.6" cy="66.9" r="2.9"/><circle cx="1002.1" cy="67.3" r="2.9"/><circle cx="1005.5" cy="69.8" r="2.9"/><circle cx="1009.3" cy="68" r="2.9"/><circle cx="1012.5" cy="69.2" r="2.9"/><circle cx="1015.6" cy="65.4" r="2.9"/><circle cx="1018.8" cy="62.3" r="2.9"/><circle cx="1022.2" cy="61" r="2.9"/><circle cx="1025.7" cy="59.1" r="2.9"/><circle cx="1029.2" cy="52.2" r="2.9"/><circle cx="1032.6" cy="52.2" r="2.9"/><circle cx="1036.2" cy="50.3" r="2.9"/><circle cx="1039.6" cy="50.3" r="2.9"/><circle cx="1042.7" cy="40.2" r="2.9"/><circle cx="1046.3" cy="43.7" r="2.9"/><circle cx="1049.3" cy="54.1" r="2.9"/><circle cx="1052.8" cy="52.2" r="2.9"/><circle cx="1056" cy="48.4" r="2.9"/><circle cx="1059.5" cy="44.6" r="2.9"/><circle cx="1062.7" cy="32.9" r="2.9"/><circle cx="1065.8" cy="39.2" r="2.9"/><circle cx="1069.6" cy="32.2" r="2.9"/><circle cx="1072.4" cy="51.9" r="2.9"/><circle cx="1075.9" cy="45.9" r="2.9"/><circle cx="1079.3" cy="43.3" r="2.9"/><circle cx="1082.7" cy="49" r="2.9"/><circle cx="1086" cy="42.1" r="2.9"/><circle cx="1089.4" cy="50.9" r="2.9"/><circle cx="1093" cy="49.9" r="2.9"/><circle cx="1096.4" cy="43.1" r="2.9"/><circle cx="1099.8" cy="46.5" r="2.9"/><circle cx="1103.1" cy="44.4" r="2.9"/><circle cx="1106.5" cy="56" r="2.9"/><circle cx="1109.5" cy="57.2" r="2.9"/><circle cx="1112.6" cy="56" r="2.9"/><circle cx="1116.2" cy="54.7" r="2.9"/><circle cx="1119.6" cy="50.3" r="2.9"/><circle cx="1123.1" cy="48.4" r="2.9"/><circle cx="1126.5" cy="45.9" r="2.9"/><circle cx="1130" cy="45.9" r="2.9"/><circle cx="1133.4" cy="45.2" r="2.9"/><circle cx="1136.8" cy="45.2" r="2.9"/><circle cx="1140.1" cy="46.8" r="2.9"/><circle cx="1142.9" cy="55.1" r="2.9"/><circle cx="1146.4" cy="48.8" r="2.9"/><circle cx="1149.8" cy="44.4" r="2.9"/><circle cx="1153" cy="44.4" r="2.9"/><circle cx="1156.2" cy="48.4" r="2.9"/><circle cx="1159.9" cy="47.1" r="2.9"/><circle cx="1163.1" cy="46.5" r="2.9"/><circle cx="1166.2" cy="53.4" r="2.9"/><circle cx="1169.4" cy="42.7" r="2.9"/><circle cx="1173.2" cy="46.9" r="2.9"/><circle cx="1176.3" cy="67.3" r="2.9"/><circle cx="1179.7" cy="69.2" r="2.9"/><circle cx="1183.3" cy="68" r="2.9"/><circle cx="1186.8" cy="68.6" r="2.9"/><circle cx="1189.8" cy="66.7" r="2.9"/><circle cx="1193.4" cy="68" r="2.9"/><circle cx="1196.9" cy="66.1" r="2.9"/><circle cx="1200.3" cy="66.1" r="2.9"/><circle cx="1203.7" cy="65.4" r="2.9"/><circle cx="1207" cy="63.5" r="2.9"/><circle cx="1210.2" cy="59.7" r="2.9"/><circle cx="1213.3" cy="56.6" r="2.9"/><circle cx="1216.7" cy="53.8" r="2.9"/><circle cx="1219.9" cy="61" r="2.9"/><circle cx="1223" cy="58.5" r="2.9"/><circle cx="1226.6" cy="57.2" r="2.9"/><circle cx="1230" cy="56.6" r="2.9"/><circle cx="1233.5" cy="54.1" r="2.9"/><circle cx="1236.7" cy="59.1" r="2.9"/><circle cx="1240.1" cy="56" r="2.9"/><circle cx="1243.5" cy="53.1" r="2.9"/><circle cx="1246.8" cy="54.1" r="2.9"/><circle cx="1250.2" cy="53.1" r="2.9"/><circle cx="1253.6" cy="50.9" r="2.9"/><circle cx="1257.1" cy="43.3" r="2.9"/></g>
<g fill="#cc1016"><circle cx="957.3" cy="218.5" r="2.9"/><circle cx="963.5" cy="214.3" r="2.9"/><circle cx="969.6" cy="211.3" r="2.9"/><circle cx="975.9" cy="210.9" r="2.9"/><circle cx="981.9" cy="208.8" r="2.9"/><circle cx="988.1" cy="211.5" r="2.9"/><circle cx="994.2" cy="206.8" r="2.9"/><circle cx="1000.2" cy="205" r="2.9"/><circle cx="1006.2" cy="205.9" r="2.9"/><circle cx="1012.2" cy="202.7" r="2.9"/><circle cx="1018.4" cy="209" r="2.9"/><circle cx="1024.4" cy="203.3" r="2.9"/><circle cx="1030.5" cy="201.2" r="2.9"/><circle cx="1036.8" cy="203" r="2.9"/><circle cx="1043" cy="199.8" r="2.9"/><circle cx="1049.1" cy="205.2" r="2.9"/><circle cx="1055.1" cy="198.9" r="2.9"/><circle cx="1061.3" cy="203.7" r="2.9"/><circle cx="1067.6" cy="207.5" r="2.9"/><circle cx="1073.7" cy="204.2" r="2.9"/><circle cx="1079.7" cy="197" r="2.9"/><circle cx="1085.9" cy="194.9" r="2.9"/><circle cx="1092" cy="200.6" r="2.9"/><circle cx="1098" cy="196.4" r="2.9"/><circle cx="1104.3" cy="193.4" r="2.9"/><circle cx="1110.5" cy="196.2" r="2.9"/><circle cx="1116.4" cy="194" r="2.9"/><circle cx="1122.7" cy="199.3" r="2.9"/><circle cx="1128.8" cy="191.7" r="2.9"/><circle cx="1134.7" cy="183.5" r="2.9"/><circle cx="1140.6" cy="189.8" r="2.9"/><circle cx="1146.9" cy="186.9" r="2.9"/><circle cx="1153" cy="194" r="2.9"/><circle cx="1159.1" cy="188.6" r="2.9"/><circle cx="1164.4" cy="193.6" r="2.9"/><circle cx="1167.5" cy="192.4" r="2.9"/><circle cx="1170.7" cy="191.1" r="2.9"/><circle cx="1173.8" cy="189.8" r="2.9"/><circle cx="1177" cy="189.8" r="2.9"/><circle cx="1180.1" cy="192.7" r="2.9"/><circle cx="1182.6" cy="187.3" r="2.9"/><circle cx="1186.4" cy="186.4" r="2.9"/><circle cx="1189" cy="154.5" r="2.9"/><circle cx="1191.9" cy="184.2" r="2.9"/><circle cx="1194.9" cy="180.1" r="2.9"/><circle cx="1197.8" cy="175.7" r="2.9"/><circle cx="1201" cy="169.7" r="2.9"/><circle cx="1204.1" cy="168.4" r="2.9"/><circle cx="1207.3" cy="167.1" r="2.9"/><circle cx="1210" cy="183.9" r="2.9"/><circle cx="1214.6" cy="198.7" r="2.9"/><circle cx="1220.5" cy="200.3" r="2.9"/><circle cx="1220.5" cy="194.3" r="2.9"/><circle cx="1223.7" cy="191.1" r="2.9"/><circle cx="1226.8" cy="189.2" r="2.9"/><circle cx="1229.3" cy="183.5" r="2.9"/><circle cx="1232.5" cy="182.9" r="2.9"/><circle cx="1235.6" cy="182.3" r="2.9"/><circle cx="1237.5" cy="186.1" r="2.9"/><circle cx="1239.8" cy="178.5" r="2.9"/><circle cx="1242.6" cy="177.2" r="2.9"/><circle cx="1245.7" cy="176" r="2.9"/><circle cx="1248.9" cy="174.7" r="2.9"/><circle cx="1251.4" cy="174.1" r="2.9"/><circle cx="1257.7" cy="175.6" r="2.9"/></g>
<g fill="#26784a"><circle cx="956.3" cy="196.7" r="2.9"/><circle cx="960.3" cy="196.4" r="2.9"/><circle cx="963.2" cy="199.6" r="2.9"/><circle cx="969.3" cy="196.7" r="2.9"/><circle cx="975.5" cy="204" r="2.9"/><circle cx="981.5" cy="207.1" r="2.9"/><circle cx="987.5" cy="207.1" r="2.9"/><circle cx="993.5" cy="208.8" r="2.9"/><circle cx="999.6" cy="208" r="2.9"/><circle cx="1005.5" cy="208" r="2.9"/><circle cx="1011.6" cy="205.9" r="2.9"/><circle cx="1017.8" cy="206.2" r="2.9"/><circle cx="1023.8" cy="205.9" r="2.9"/><circle cx="1029.5" cy="207.5" r="2.9"/><circle cx="1035.6" cy="208" r="2.9"/><circle cx="1041.7" cy="208" r="2.9"/><circle cx="1047.8" cy="209.3" r="2.9"/><circle cx="1053.8" cy="209.3" r="2.9"/><circle cx="1059.8" cy="211.8" r="2.9"/><circle cx="1064.8" cy="197.7" r="2.9"/><circle cx="1068" cy="199.2" r="2.9"/><circle cx="1071.1" cy="199.2" r="2.9"/><circle cx="1074.3" cy="199.6" r="2.9"/><circle cx="1077.4" cy="200.8" r="2.9"/><circle cx="1080.6" cy="201.5" r="2.9"/><circle cx="1083.8" cy="201.7" r="2.9"/><circle cx="1086.9" cy="203.3" r="2.9"/><circle cx="1090.1" cy="205.2" r="2.9"/><circle cx="1093.2" cy="205.9" r="2.9"/><circle cx="1096.4" cy="206.5" r="2.9"/><circle cx="1099.5" cy="208" r="2.9"/><circle cx="1102" cy="208.4" r="2.9"/><circle cx="1105.2" cy="207.1" r="2.9"/><circle cx="1108.7" cy="208" r="2.9"/><circle cx="1111.8" cy="208.1" r="2.9"/><circle cx="1114.9" cy="208.1" r="2.9"/><circle cx="1118" cy="208.1" r="2.9"/><circle cx="1120.8" cy="202.1" r="2.9"/><circle cx="1124.6" cy="201.8" r="2.9"/><circle cx="1128.4" cy="201.2" r="2.9"/><circle cx="1131.5" cy="198.7" r="2.9"/><circle cx="1134.7" cy="199.3" r="2.9"/><circle cx="1137.9" cy="197.8" r="2.9"/><circle cx="1141" cy="199.1" r="2.9"/><circle cx="1144.2" cy="200.6" r="2.9"/><circle cx="1147.3" cy="199.9" r="2.9"/><circle cx="1150.5" cy="199.9" r="2.9"/><circle cx="1153" cy="202.5" r="2.9"/><circle cx="1156.2" cy="202.1" r="2.9"/><circle cx="1159.3" cy="202.8" r="2.9"/><circle cx="1162.5" cy="203.1" r="2.9"/><circle cx="1165.6" cy="202.1" r="2.9"/><circle cx="1168.8" cy="201.2" r="2.9"/><circle cx="1171.9" cy="202.5" r="2.9"/><circle cx="1175.1" cy="202.8" r="2.9"/><circle cx="1178.2" cy="202.8" r="2.9"/><circle cx="1181.4" cy="202.5" r="2.9"/><circle cx="1184.5" cy="191.7" r="2.9"/><circle cx="1187.1" cy="192.7" r="2.9"/><circle cx="1192.7" cy="190.2" r="2.9"/><circle cx="1198.8" cy="192.4" r="2.9"/><circle cx="1204.7" cy="195.5" r="2.9"/><circle cx="1210.8" cy="197" r="2.9"/><circle cx="1216.7" cy="196.5" r="2.9"/><circle cx="1222.6" cy="197.4" r="2.9"/><circle cx="1228.7" cy="198.3" r="2.9"/><circle cx="1234.8" cy="199.3" r="2.9"/><circle cx="1241.1" cy="200.8" r="2.9"/><circle cx="1247" cy="190.5" r="2.9"/><circle cx="1253.3" cy="191.1" r="2.9"/><circle cx="1257.7" cy="191.7" r="2.9"/></g>
<text x="964" y="30.5" font-size="17.6" text-anchor="start" fill="#141414" stroke="#141414" stroke-width="0.3" >@1A cm<tspan font-size="13" dy="-7">-2</tspan></text>
<text x="1254.6" y="89.6" font-size="17.6" text-anchor="end" fill="#141414" stroke="#141414" stroke-width="0.3" >160 mV droped</text>
<text x="1254.1" y="144.8" font-size="17.6" text-anchor="end" fill="#c1131b" stroke="#c1131b" stroke-width="0.3" >260 mV droped</text>
<text x="1254.6" y="230.4" font-size="17.6" text-anchor="end" fill="#267a46" stroke="#267a46" stroke-width="0.3" >32 mV droped</text>
<rect x="957.8" y="7.8" width="300.9" height="300.7" fill="none" stroke="#141414" stroke-width="2"/>
<line x1="957.8" y1="308.2" x2="952.2" y2="308.2" stroke="#141414" stroke-width="1.6" />
<text x="949.5" y="313.7" font-size="17.3" text-anchor="end" fill="#141414" stroke="#141414" stroke-width="0.3" >0</text>
<line x1="957.8" y1="158" x2="952.2" y2="158" stroke="#141414" stroke-width="1.6" />
<text x="949.5" y="163.5" font-size="17.3" text-anchor="end" fill="#141414" stroke="#141414" stroke-width="0.3" >1</text>
<line x1="957.8" y1="7.8" x2="952.2" y2="7.8" stroke="#141414" stroke-width="1.6" />
<text x="949.5" y="13.3" font-size="17.3" text-anchor="end" fill="#141414" stroke="#141414" stroke-width="0.3" >2</text>
<line x1="957.8" y1="233.1" x2="955.2" y2="233.1" stroke="#141414" stroke-width="1.6" />
<line x1="957.8" y1="82.9" x2="955.2" y2="82.9" stroke="#141414" stroke-width="1.6" />
<line x1="957.6" y1="308.5" x2="957.6" y2="314.1" stroke="#141414" stroke-width="1.6" />
<text x="957.6" y="329.9" font-size="17.3" text-anchor="middle" fill="#141414" stroke="#141414" stroke-width="0.3" >0</text>
<line x1="1017.82" y1="308.5" x2="1017.82" y2="314.1" stroke="#141414" stroke-width="1.6" />
<text x="1017.82" y="329.9" font-size="17.3" text-anchor="middle" fill="#141414" stroke="#141414" stroke-width="0.3" >4</text>
<line x1="1078.04" y1="308.5" x2="1078.04" y2="314.1" stroke="#141414" stroke-width="1.6" />
<text x="1078.04" y="329.9" font-size="17.3" text-anchor="middle" fill="#141414" stroke="#141414" stroke-width="0.3" >8</text>
<line x1="1138.26" y1="308.5" x2="1138.26" y2="314.1" stroke="#141414" stroke-width="1.6" />
<text x="1138.26" y="329.9" font-size="17.3" text-anchor="middle" fill="#141414" stroke="#141414" stroke-width="0.3" >12</text>
<line x1="1198.48" y1="308.5" x2="1198.48" y2="314.1" stroke="#141414" stroke-width="1.6" />
<text x="1198.48" y="329.9" font-size="17.3" text-anchor="middle" fill="#141414" stroke="#141414" stroke-width="0.3" >16</text>
<line x1="1258.7" y1="308.5" x2="1258.7" y2="314.1" stroke="#141414" stroke-width="1.6" />
<text x="1258.7" y="329.9" font-size="17.3" text-anchor="middle" fill="#141414" stroke="#141414" stroke-width="0.3" >20</text>
<line x1="987.71" y1="308.5" x2="987.71" y2="311.1" stroke="#141414" stroke-width="1.6" />
<line x1="1047.93" y1="308.5" x2="1047.93" y2="311.1" stroke="#141414" stroke-width="1.6" />
<line x1="1108.15" y1="308.5" x2="1108.15" y2="311.1" stroke="#141414" stroke-width="1.6" />
<line x1="1168.37" y1="308.5" x2="1168.37" y2="311.1" stroke="#141414" stroke-width="1.6" />
<line x1="1228.59" y1="308.5" x2="1228.59" y2="311.1" stroke="#141414" stroke-width="1.6" />
<text x="1105.8" y="360.9" font-size="21.4" text-anchor="middle" fill="#141414" stroke="#141414" stroke-width="0.3" >Time (h)</text>
<text transform="translate(931.2,157.5) rotate(-90)" font-size="21.4" text-anchor="middle" fill="#141414" stroke="#141414" stroke-width="0.3">Overpotential (V)</text>
<circle cx="971.3" cy="253.5" r="2.8" fill="#0a0a0a"/><circle cx="971.3" cy="274.4" r="2.8" fill="#cc1016"/><circle cx="971.3" cy="295.4" r="2.8" fill="#26784a"/>
<text x="994.8" y="259.6" font-size="17.6" text-anchor="start" fill="#141414" stroke="#141414" stroke-width="0.3" >Pt/C / Ir/C</text>
<text x="995.2" y="280.5" font-size="17.6" text-anchor="start" fill="#c1131b" stroke="#c1131b" stroke-width="0.3" >Cl-Pt/LDH / NiFe-LDH</text>
<text x="995.2" y="301.4" font-size="17.6" text-anchor="start" fill="#267a46" stroke="#267a46" stroke-width="0.3" >Cl-Pt/LDH / Ir/C</text>
<text x="-0.2" y="445.1" font-size="46.5" text-anchor="start" fill="#231815" stroke="#231815" stroke-width="0" >d</text>
<path d="M87.8,432.11 L391.8,466.8 L391.8,556.54 L391.8,556.54 L391.7,556.49 L391.2,556.43 L390.7,556.35 L390.2,556.26 L389.7,556.16 L389.2,556.06 L388.7,555.96 L388.2,555.86 L387.7,555.76 L387.2,555.66 L386.7,555.56 L386.2,555.46 L385.7,555.36 L385.2,555.26 L384.7,555.16 L384.2,555.06 L383.7,554.96 L383.2,554.86 L382.7,554.76 L382.2,554.66 L381.7,554.56 L381.2,554.46 L380.7,554.37 L380.2,554.27 L379.7,554.17 L379.2,554.07 L378.7,553.98 L378.2,553.88 L377.7,553.78 L377.2,553.69 L376.7,553.59 L376.2,553.49 L375.7,553.4 L375.2,553.3 L374.7,553.21 L374.2,553.11 L373.7,553.02 L373.2,552.92 L372.7,552.83 L372.2,552.74 L371.7,552.64 L371.2,552.55 L370.7,552.46 L370.2,552.36 L369.7,552.27 L369.2,552.18 L368.7,552.09 L368.2,551.99 L367.7,551.9 L367.2,551.81 L366.7,551.72 L366.2,551.63 L365.7,551.54 L365.2,551.45 L364.7,551.36 L364.2,551.27 L363.7,551.18 L363.2,551.09 L362.7,551 L362.2,550.92 L361.7,550.83 L361.2,550.74 L360.7,550.66 L360.2,550.57 L359.7,550.49 L359.2,550.4 L358.7,550.32 L358.2,550.23 L357.7,550.15 L357.2,550.06 L356.7,549.98 L356.2,549.89 L355.7,549.81 L355.2,549.73 L354.7,549.64 L354.2,549.56 L353.7,549.48 L353.2,549.39 L352.7,549.31 L352.2,549.23 L351.7,549.14 L351.2,549.06 L350.7,548.97 L350.2,548.89 L349.7,548.81 L349.2,548.72 L348.7,548.64 L348.2,548.55 L347.7,548.47 L347.2,548.38 L346.7,548.29 L346.2,548.21 L345.7,548.12 L345.2,548.03 L344.7,547.95 L344.2,547.86 L343.7,547.77 L343.2,547.68 L342.7,547.59 L342.2,547.5 L341.7,547.41 L341.2,547.32 L340.7,547.23 L340.2,547.14 L339.7,547.05 L339.2,546.96 L338.7,546.87 L338.2,546.78 L337.7,546.68 L337.2,546.59 L336.7,546.5 L336.2,546.41 L335.7,546.32 L335.2,546.23 L334.7,546.13 L334.2,546.04 L333.7,545.95 L333.2,545.86 L332.7,545.77 L332.2,545.68 L331.7,545.59 L331.2,545.49 L330.7,545.4 L330.2,545.31 L329.7,545.22 L329.2,545.13 L328.7,545.04 L328.2,544.95 L327.7,544.86 L327.2,544.77 L326.7,544.69 L326.2,544.6 L325.7,544.51 L325.2,544.42 L324.7,544.34 L324.2,544.25 L323.7,544.16 L323.2,544.08 L322.7,543.99 L322.2,543.91 L321.7,543.83 L321.2,543.74 L320.7,543.66 L320.2,543.58 L319.7,543.5 L319.2,543.42 L318.7,543.34 L318.2,543.26 L317.7,543.17 L317.2,543.09 L316.7,543.01 L316.2,542.93 L315.7,542.85 L315.2,542.77 L314.7,542.69 L314.2,542.61 L313.7,542.53 L313.2,542.45 L312.7,542.37 L312.2,542.29 L311.7,542.21 L311.2,542.13 L310.7,542.05 L310.2,541.96 L309.7,541.88 L309.2,541.8 L308.7,541.72 L308.2,541.63 L307.7,541.55 L307.2,541.46 L306.7,541.38 L306.2,541.29 L305.7,541.2 L305.2,541.11 L304.7,541.02 L304.2,540.93 L303.7,540.84 L303.2,540.75 L302.7,540.66 L302.2,540.57 L301.7,540.47 L301.2,540.38 L300.7,540.28 L300.2,540.19 L299.7,540.09 L299.2,539.99 L298.7,539.9 L298.2,539.8 L297.7,539.7 L297.2,539.6 L296.7,539.5 L296.2,539.4 L295.7,539.3 L295.2,539.2 L294.7,539.1 L294.2,538.99 L293.7,538.89 L293.2,538.79 L292.7,538.69 L292.2,538.59 L291.7,538.48 L291.2,538.38 L290.7,538.28 L290.2,538.17 L289.7,538.07 L289.2,537.97 L288.7,537.87 L288.2,537.76 L287.7,537.66 L287.2,537.56 L286.7,537.45 L286.2,537.35 L285.7,537.25 L285.2,537.15 L284.7,537.04 L284.2,536.94 L283.7,536.84 L283.2,536.74 L282.7,536.64 L282.2,536.54 L281.7,536.44 L281.2,536.34 L280.7,536.24 L280.2,536.13 L279.7,536.03 L279.2,535.93 L278.7,535.83 L278.2,535.73 L277.7,535.63 L277.2,535.53 L276.7,535.43 L276.2,535.33 L275.7,535.23 L275.2,535.13 L274.7,535.03 L274.2,534.93 L273.7,534.83 L273.2,534.73 L272.7,534.62 L272.2,534.52 L271.7,534.42 L271.2,534.32 L270.7,534.22 L270.2,534.11 L269.7,534.01 L269.2,533.91 L268.7,533.8 L268.2,533.7 L267.7,533.6 L267.2,533.49 L266.7,533.39 L266.2,533.28 L265.7,533.18 L265.2,533.07 L264.7,532.96 L264.2,532.86 L263.7,532.75 L263.2,532.64 L262.7,532.53 L262.2,532.43 L261.7,532.32 L261.2,532.21 L260.7,532.1 L260.2,531.99 L259.7,531.88 L259.2,531.77 L258.7,531.65 L258.2,531.54 L257.7,531.43 L257.2,531.32 L256.7,531.21 L256.2,531.09 L255.7,530.98 L255.2,530.87 L254.7,530.75 L254.2,530.64 L253.7,530.52 L253.2,530.41 L252.7,530.29 L252.2,530.18 L251.7,530.06 L251.2,529.95 L250.7,529.83 L250.2,529.72 L249.7,529.6 L249.2,529.48 L248.7,529.37 L248.2,529.25 L247.7,529.13 L247.2,529.01 L246.7,528.9 L246.2,528.78 L245.7,528.66 L245.2,528.54 L244.7,528.42 L244.2,528.3 L243.7,528.19 L243.2,528.07 L242.7,527.95 L242.2,527.83 L241.7,527.71 L241.2,527.59 L240.7,527.47 L240.2,527.35 L239.7,527.23 L239.2,527.11 L238.7,526.99 L238.2,526.87 L237.7,526.75 L237.2,526.62 L236.7,526.5 L236.2,526.38 L235.7,526.26 L235.2,526.14 L234.7,526.01 L234.2,525.89 L233.7,525.77 L233.2,525.65 L232.7,525.52 L232.2,525.4 L231.7,525.27 L231.2,525.15 L230.7,525.02 L230.2,524.9 L229.7,524.77 L229.2,524.65 L228.7,524.52 L228.2,524.4 L227.7,524.27 L227.2,524.14 L226.7,524.02 L226.2,523.89 L225.7,523.76 L225.2,523.63 L224.7,523.5 L224.2,523.37 L223.7,523.24 L223.2,523.11 L222.7,522.98 L222.2,522.85 L221.7,522.72 L221.2,522.59 L220.7,522.46 L220.2,522.32 L219.7,522.19 L219.2,522.06 L218.7,521.93 L218.2,521.79 L217.7,521.66 L217.2,521.53 L216.7,521.39 L216.2,521.26 L215.7,521.12 L215.2,520.99 L214.7,520.85 L214.2,520.71 L213.7,520.58 L213.2,520.44 L212.7,520.3 L212.2,520.16 L211.7,520.03 L211.2,519.89 L210.7,519.75 L210.2,519.61 L209.7,519.47 L209.2,519.33 L208.7,519.19 L208.2,519.05 L207.7,518.9 L207.2,518.76 L206.7,518.62 L206.2,518.47 L205.7,518.33 L205.2,518.19 L204.7,518.04 L204.2,517.9 L203.7,517.75 L203.2,517.6 L202.7,517.45 L202.2,517.31 L201.7,517.16 L201.2,517.01 L200.7,516.86 L200.2,516.71 L199.7,516.56 L199.2,516.41 L198.7,516.26 L198.2,516.1 L197.7,515.95 L197.2,515.8 L196.7,515.64 L196.2,515.49 L195.7,515.33 L195.2,515.18 L194.7,515.02 L194.2,514.86 L193.7,514.71 L193.2,514.55 L192.7,514.39 L192.2,514.23 L191.7,514.07 L191.2,513.91 L190.7,513.75 L190.2,513.59 L189.7,513.43 L189.2,513.26 L188.7,513.1 L188.2,512.94 L187.7,512.77 L187.2,512.61 L186.7,512.44 L186.2,512.27 L185.7,512.11 L185.2,511.94 L184.7,511.77 L184.2,511.6 L183.7,511.43 L183.2,511.26 L182.7,511.09 L182.2,510.91 L181.7,510.74 L181.2,510.57 L180.7,510.39 L180.2,510.21 L179.7,510.04 L179.2,509.86 L178.7,509.68 L178.2,509.5 L177.7,509.31 L177.2,509.13 L176.7,508.94 L176.2,508.76 L175.7,508.57 L175.2,508.38 L174.7,508.19 L174.2,508 L173.7,507.81 L173.2,507.62 L172.7,507.42 L172.2,507.23 L171.7,507.04 L171.2,506.84 L170.7,506.65 L170.2,506.45 L169.7,506.26 L169.2,506.06 L168.7,505.87 L168.2,505.67 L167.7,505.48 L167.2,505.28 L166.7,505.09 L166.2,504.89 L165.7,504.7 L165.2,504.5 L164.7,504.31 L164.2,504.11 L163.7,503.92 L163.2,503.73 L162.7,503.54 L162.2,503.35 L161.7,503.16 L161.2,502.97 L160.7,502.78 L160.2,502.59 L159.7,502.4 L159.2,502.21 L158.7,502.03 L158.2,501.84 L157.7,501.65 L157.2,501.46 L156.7,501.28 L156.2,501.09 L155.7,500.9 L155.2,500.72 L154.7,500.53 L154.2,500.34 L153.7,500.16 L153.2,499.97 L152.7,499.78 L152.2,499.6 L151.7,499.41 L151.2,499.23 L150.7,499.04 L150.2,498.86 L149.7,498.67 L149.2,498.49 L148.7,498.3 L148.2,498.12 L147.7,497.93 L147.2,497.75 L146.7,497.56 L146.2,497.38 L145.7,497.19 L145.2,497.01 L144.7,496.82 L144.2,496.64 L143.7,496.46 L143.2,496.27 L142.7,496.09 L142.2,495.91 L141.7,495.72 L141.2,495.54 L140.7,495.36 L140.2,495.18 L139.7,495 L139.2,494.82 L138.7,494.64 L138.2,494.46 L137.7,494.28 L137.2,494.11 L136.7,493.93 L136.2,493.76 L135.7,493.58 L135.2,493.4 L134.7,493.22 L134.2,493.04 L133.7,492.86 L133.2,492.67 L132.7,492.48 L132.2,492.29 L131.7,492.09 L131.2,491.89 L130.7,491.69 L130.2,491.48 L129.7,491.28 L129.2,491.07 L128.7,490.85 L128.2,490.64 L127.7,490.42 L127.2,490.2 L126.7,489.97 L126.2,489.75 L125.7,489.52 L125.2,489.28 L124.7,489.04 L124.2,488.8 L123.7,488.56 L123.2,488.31 L122.7,488.05 L122.2,487.79 L121.7,487.53 L121.2,487.27 L120.7,487 L120.2,486.73 L119.7,486.45 L119.2,486.17 L118.7,485.88 L118.2,485.58 L117.7,485.28 L117.2,484.97 L116.7,484.64 L116.2,484.31 L115.7,483.97 L115.2,483.61 L114.7,483.24 L114.2,482.85 L113.7,482.44 L113.2,482.02 L112.7,481.57 L112.2,481.1 L111.7,480.61 L111.2,480.09 L110.7,479.55 L110.2,478.98 L109.7,478.37 L109.2,477.72 L108.7,477.03 L108.2,476.29 L107.7,475.51 L107.2,474.71 L106.7,473.89 L106.2,473.07 L105.7,472.27 L105.2,471.5 L104.7,470.77 L104.2,470.09 L103.7,469.45 L103.2,468.84 L102.7,468.27 L102.2,467.71 L101.7,467.17 L101.2,466.63 L100.7,466.09 L100.2,465.53 L99.7,464.97 L99.2,464.39 L98.7,463.8 L98.2,463.2 L97.7,462.58 L97.2,461.95 L96.7,461.3 L96.2,460.64 L95.7,459.96 L95.2,459.27 L94.7,458.55 L94.2,457.8 L93.7,457 L93.2,456.14 L92.7,455.17 L92.2,454.05 L91.7,452.67 L91.2,450.93 L90.7,448.74 L90.2,446.12 L89.7,443.2 L89.2,440.26 L88.7,437.62 L88.2,435.51 Z" fill="#fffcd3"/>
<path d="M87.8,432.11 L391.8,432.11 L391.8,466.8 Z" fill="#dcf0f4"/>
<line x1="87.8" y1="432.11" x2="391.8" y2="466.8" stroke="#5cf4fa" stroke-width="1.8" />
<path d="M88.2,435.51 L88.7,437.62 L89.2,440.26 L89.7,443.2 L90.2,446.12 L90.7,448.74 L91.2,450.93 L91.7,452.67 L92.2,454.05 L92.7,455.17 L93.2,456.14 L93.7,457 L94.2,457.8 L94.7,458.55 L95.2,459.27 L95.7,459.96 L96.2,460.64 L96.7,461.3 L97.2,461.95 L97.7,462.58 L98.2,463.2 L98.7,463.8 L99.2,464.39 L99.7,464.97 L100.2,465.53 L100.7,466.09 L101.2,466.63 L101.7,467.17 L102.2,467.71 L102.7,468.27 L103.2,468.84 L103.7,469.45 L104.2,470.09 L104.7,470.77 L105.2,471.5 L105.7,472.27 L106.2,473.07 L106.7,473.89 L107.2,474.71 L107.7,475.51 L108.2,476.29 L108.7,477.03 L109.2,477.72 L109.7,478.37 L110.2,478.98 L110.7,479.55 L111.2,480.09 L111.7,480.61 L112.2,481.1 L112.7,481.57 L113.2,482.02 L113.7,482.44 L114.2,482.85 L114.7,483.24 L115.2,483.61 L115.7,483.97 L116.2,484.31 L116.7,484.64 L117.2,484.97 L117.7,485.28 L118.2,485.58 L118.7,485.88 L119.2,486.17 L119.7,486.45 L120.2,486.73 L120.7,487 L121.2,487.27 L121.7,487.53 L122.2,487.79 L122.7,488.05 L123.2,488.31 L123.7,488.56 L124.2,488.8 L124.7,489.04 L125.2,489.28 L125.7,489.52 L126.2,489.75 L126.7,489.97 L127.2,490.2 L127.7,490.42 L128.2,490.64 L128.7,490.85 L129.2,491.07 L129.7,491.28 L130.2,491.48 L130.7,491.69 L131.2,491.89 L131.7,492.09 L132.2,492.29 L132.7,492.48 L133.2,492.67 L133.7,492.86 L134.2,493.04 L134.7,493.22 L135.2,493.4 L135.7,493.58 L136.2,493.76 L136.7,493.93 L137.2,494.11 L137.7,494.28 L138.2,494.46 L138.7,494.64 L139.2,494.82 L139.7,495 L140.2,495.18 L140.7,495.36 L141.2,495.54 L141.7,495.72 L142.2,495.91 L142.7,496.09 L143.2,496.27 L143.7,496.46 L144.2,496.64 L144.7,496.82 L145.2,497.01 L145.7,497.19 L146.2,497.38 L146.7,497.56 L147.2,497.75 L147.7,497.93 L148.2,498.12 L148.7,498.3 L149.2,498.49 L149.7,498.67 L150.2,498.86 L150.7,499.04 L151.2,499.23 L151.7,499.41 L152.2,499.6 L152.7,499.78 L153.2,499.97 L153.7,500.16 L154.2,500.34 L154.7,500.53 L155.2,500.72 L155.7,500.9 L156.2,501.09 L156.7,501.28 L157.2,501.46 L157.7,501.65 L158.2,501.84 L158.7,502.03 L159.2,502.21 L159.7,502.4 L160.2,502.59 L160.7,502.78 L161.2,502.97 L161.7,503.16 L162.2,503.35 L162.7,503.54 L163.2,503.73 L163.7,503.92 L164.2,504.11 L164.7,504.31 L165.2,504.5 L165.7,504.7 L166.2,504.89 L166.7,505.09 L167.2,505.28 L167.7,505.48 L168.2,505.67 L168.7,505.87 L169.2,506.06 L169.7,506.26 L170.2,506.45 L170.7,506.65 L171.2,506.84 L171.7,507.04 L172.2,507.23 L172.7,507.42 L173.2,507.62 L173.7,507.81 L174.2,508 L174.7,508.19 L175.2,508.38 L175.7,508.57 L176.2,508.76 L176.7,508.94 L177.2,509.13 L177.7,509.31 L178.2,509.5 L178.7,509.68 L179.2,509.86 L179.7,510.04 L180.2,510.21 L180.7,510.39 L181.2,510.57 L181.7,510.74 L182.2,510.91 L182.7,511.09 L183.2,511.26 L183.7,511.43 L184.2,511.6 L184.7,511.77 L185.2,511.94 L185.7,512.11 L186.2,512.27 L186.7,512.44 L187.2,512.61 L187.7,512.77 L188.2,512.94 L188.7,513.1 L189.2,513.26 L189.7,513.43 L190.2,513.59 L190.7,513.75 L191.2,513.91 L191.7,514.07 L192.2,514.23 L192.7,514.39 L193.2,514.55 L193.7,514.71 L194.2,514.86 L194.7,515.02 L195.2,515.18 L195.7,515.33 L196.2,515.49 L196.7,515.64 L197.2,515.8 L197.7,515.95 L198.2,516.1 L198.7,516.26 L199.2,516.41 L199.7,516.56 L200.2,516.71 L200.7,516.86 L201.2,517.01 L201.7,517.16 L202.2,517.31 L202.7,517.45 L203.2,517.6 L203.7,517.75 L204.2,517.9 L204.7,518.04 L205.2,518.19 L205.7,518.33 L206.2,518.47 L206.7,518.62 L207.2,518.76 L207.7,518.9 L208.2,519.05 L208.7,519.19 L209.2,519.33 L209.7,519.47 L210.2,519.61 L210.7,519.75 L211.2,519.89 L211.7,520.03 L212.2,520.16 L212.7,520.3 L213.2,520.44 L213.7,520.58 L214.2,520.71 L214.7,520.85 L215.2,520.99 L215.7,521.12 L216.2,521.26 L216.7,521.39 L217.2,521.53 L217.7,521.66 L218.2,521.79 L218.7,521.93 L219.2,522.06 L219.7,522.19 L220.2,522.32 L220.7,522.46 L221.2,522.59 L221.7,522.72 L222.2,522.85 L222.7,522.98 L223.2,523.11 L223.7,523.24 L224.2,523.37 L224.7,523.5 L225.2,523.63 L225.7,523.76 L226.2,523.89 L226.7,524.02 L227.2,524.14 L227.7,524.27 L228.2,524.4 L228.7,524.52 L229.2,524.65 L229.7,524.77 L230.2,524.9 L230.7,525.02 L231.2,525.15 L231.7,525.27 L232.2,525.4 L232.7,525.52 L233.2,525.65 L233.7,525.77 L234.2,525.89 L234.7,526.01 L235.2,526.14 L235.7,526.26 L236.2,526.38 L236.7,526.5 L237.2,526.62 L237.7,526.75 L238.2,526.87 L238.7,526.99 L239.2,527.11 L239.7,527.23 L240.2,527.35 L240.7,527.47 L241.2,527.59 L241.7,527.71 L242.2,527.83 L242.7,527.95 L243.2,528.07 L243.7,528.19 L244.2,528.3 L244.7,528.42 L245.2,528.54 L245.7,528.66 L246.2,528.78 L246.7,528.9 L247.2,529.01 L247.7,529.13 L248.2,529.25 L248.7,529.37 L249.2,529.48 L249.7,529.6 L250.2,529.72 L250.7,529.83 L251.2,529.95 L251.7,530.06 L252.2,530.18 L252.7,530.29 L253.2,530.41 L253.7,530.52 L254.2,530.64 L254.7,530.75 L255.2,530.87 L255.7,530.98 L256.2,531.09 L256.7,531.21 L257.2,531.32 L257.7,531.43 L258.2,531.54 L258.7,531.65 L259.2,531.77 L259.7,531.88 L260.2,531.99 L260.7,532.1 L261.2,532.21 L261.7,532.32 L262.2,532.43 L262.7,532.53 L263.2,532.64 L263.7,532.75 L264.2,532.86 L264.7,532.96 L265.2,533.07 L265.7,533.18 L266.2,533.28 L266.7,533.39 L267.2,533.49 L267.7,533.6 L268.2,533.7 L268.7,533.8 L269.2,533.91 L269.7,534.01 L270.2,534.11 L270.7,534.22 L271.2,534.32 L271.7,534.42 L272.2,534.52 L272.7,534.62 L273.2,534.73 L273.7,534.83 L274.2,534.93 L274.7,535.03 L275.2,535.13 L275.7,535.23 L276.2,535.33 L276.7,535.43 L277.2,535.53 L277.7,535.63 L278.2,535.73 L278.7,535.83 L279.2,535.93 L279.7,536.03 L280.2,536.13 L280.7,536.24 L281.2,536.34 L281.7,536.44 L282.2,536.54 L282.7,536.64 L283.2,536.74 L283.7,536.84 L284.2,536.94 L284.7,537.04 L285.2,537.15 L285.7,537.25 L286.2,537.35 L286.7,537.45 L287.2,537.56 L287.7,537.66 L288.2,537.76 L288.7,537.87 L289.2,537.97 L289.7,538.07 L290.2,538.17 L290.7,538.28 L291.2,538.38 L291.7,538.48 L292.2,538.59 L292.7,538.69 L293.2,538.79 L293.7,538.89 L294.2,538.99 L294.7,539.1 L295.2,539.2 L295.7,539.3 L296.2,539.4 L296.7,539.5 L297.2,539.6 L297.7,539.7 L298.2,539.8 L298.7,539.9 L299.2,539.99 L299.7,540.09 L300.2,540.19 L300.7,540.28 L301.2,540.38 L301.7,540.47 L302.2,540.57 L302.7,540.66 L303.2,540.75 L303.7,540.84 L304.2,540.93 L304.7,541.02 L305.2,541.11 L305.7,541.2 L306.2,541.29 L306.7,541.38 L307.2,541.46 L307.7,541.55 L308.2,541.63 L308.7,541.72 L309.2,541.8 L309.7,541.88 L310.2,541.96 L310.7,542.05 L311.2,542.13 L311.7,542.21 L312.2,542.29 L312.7,542.37 L313.2,542.45 L313.7,542.53 L314.2,542.61 L314.7,542.69 L315.2,542.77 L315.7,542.85 L316.2,542.93 L316.7,543.01 L317.2,543.09 L317.7,543.17 L318.2,543.26 L318.7,543.34 L319.2,543.42 L319.7,543.5 L320.2,543.58 L320.7,543.66 L321.2,543.74 L321.7,543.83 L322.2,543.91 L322.7,543.99 L323.2,544.08 L323.7,544.16 L324.2,544.25 L324.7,544.34 L325.2,544.42 L325.7,544.51 L326.2,544.6 L326.7,544.69 L327.2,544.77 L327.7,544.86 L328.2,544.95 L328.7,545.04 L329.2,545.13 L329.7,545.22 L330.2,545.31 L330.7,545.4 L331.2,545.49 L331.7,545.59 L332.2,545.68 L332.7,545.77 L333.2,545.86 L333.7,545.95 L334.2,546.04 L334.7,546.13 L335.2,546.23 L335.7,546.32 L336.2,546.41 L336.7,546.5 L337.2,546.59 L337.7,546.68 L338.2,546.78 L338.7,546.87 L339.2,546.96 L339.7,547.05 L340.2,547.14 L340.7,547.23 L341.2,547.32 L341.7,547.41 L342.2,547.5 L342.7,547.59 L343.2,547.68 L343.7,547.77 L344.2,547.86 L344.7,547.95 L345.2,548.03 L345.7,548.12 L346.2,548.21 L346.7,548.29 L347.2,548.38 L347.7,548.47 L348.2,548.55 L348.7,548.64 L349.2,548.72 L349.7,548.81 L350.2,548.89 L350.7,548.97 L351.2,549.06 L351.7,549.14 L352.2,549.23 L352.7,549.31 L353.2,549.39 L353.7,549.48 L354.2,549.56 L354.7,549.64 L355.2,549.73 L355.7,549.81 L356.2,549.89 L356.7,549.98 L357.2,550.06 L357.7,550.15 L358.2,550.23 L358.7,550.32 L359.2,550.4 L359.7,550.49 L360.2,550.57 L360.7,550.66 L361.2,550.74 L361.7,550.83 L362.2,550.92 L362.7,551 L363.2,551.09 L363.7,551.18 L364.2,551.27 L364.7,551.36 L365.2,551.45 L365.7,551.54 L366.2,551.63 L366.7,551.72 L367.2,551.81 L367.7,551.9 L368.2,551.99 L368.7,552.09 L369.2,552.18 L369.7,552.27 L370.2,552.36 L370.7,552.46 L371.2,552.55 L371.7,552.64 L372.2,552.74 L372.7,552.83 L373.2,552.92 L373.7,553.02 L374.2,553.11 L374.7,553.21 L375.2,553.3 L375.7,553.4 L376.2,553.49 L376.7,553.59 L377.2,553.69 L377.7,553.78 L378.2,553.88 L378.7,553.98 L379.2,554.07 L379.7,554.17 L380.2,554.27 L380.7,554.37 L381.2,554.46 L381.7,554.56 L382.2,554.66 L382.7,554.76 L383.2,554.86 L383.7,554.96 L384.2,555.06 L384.7,555.16 L385.2,555.26 L385.7,555.36 L386.2,555.46 L386.7,555.56 L387.2,555.66 L387.7,555.76 L388.2,555.86 L388.7,555.96 L389.2,556.06 L389.7,556.16 L390.2,556.26 L390.7,556.35 L391.2,556.43 L391.7,556.49 L391.8,556.54" fill="none" stroke="#c8121b" stroke-width="1.8" stroke-linejoin="round"/>
<line x1="88.5" y1="432.11" x2="391.8" y2="432.11" stroke="#141414" stroke-width="2" stroke-dasharray="4.5 3.2"/>
<rect x="87.8" y="404.4" width="304" height="304.8" fill="none" stroke="#141414" stroke-width="2"/>
<line x1="87.8" y1="432.11" x2="82.2" y2="432.11" stroke="#141414" stroke-width="1.6" />
<text x="79.8" y="437.61" font-size="17.3" text-anchor="end" fill="#141414" stroke="#141414" stroke-width="0.3" >0.0</text>
<line x1="87.8" y1="487.53" x2="82.2" y2="487.53" stroke="#141414" stroke-width="1.6" />
<text x="79.8" y="493.03" font-size="17.3" text-anchor="end" fill="#141414" stroke="#141414" stroke-width="0.3" >0.4</text>
<line x1="87.8" y1="542.95" x2="82.2" y2="542.95" stroke="#141414" stroke-width="1.6" />
<text x="79.8" y="548.45" font-size="17.3" text-anchor="end" fill="#141414" stroke="#141414" stroke-width="0.3" >0.8</text>
<line x1="87.8" y1="598.36" x2="82.2" y2="598.36" stroke="#141414" stroke-width="1.6" />
<text x="79.8" y="603.86" font-size="17.3" text-anchor="end" fill="#141414" stroke="#141414" stroke-width="0.3" >1.2</text>
<line x1="87.8" y1="653.78" x2="82.2" y2="653.78" stroke="#141414" stroke-width="1.6" />
<text x="79.8" y="659.28" font-size="17.3" text-anchor="end" fill="#141414" stroke="#141414" stroke-width="0.3" >1.6</text>
<line x1="87.8" y1="709.2" x2="82.2" y2="709.2" stroke="#141414" stroke-width="1.6" />
<text x="79.8" y="714.7" font-size="17.3" text-anchor="end" fill="#141414" stroke="#141414" stroke-width="0.3" >2.0</text>
<line x1="87.8" y1="404.4" x2="85.2" y2="404.4" stroke="#141414" stroke-width="1.6" />
<line x1="87.8" y1="459.82" x2="85.2" y2="459.82" stroke="#141414" stroke-width="1.6" />
<line x1="87.8" y1="515.24" x2="85.2" y2="515.24" stroke="#141414" stroke-width="1.6" />
<line x1="87.8" y1="570.65" x2="85.2" y2="570.65" stroke="#141414" stroke-width="1.6" />
<line x1="87.8" y1="626.07" x2="85.2" y2="626.07" stroke="#141414" stroke-width="1.6" />
<line x1="87.8" y1="681.49" x2="85.2" y2="681.49" stroke="#141414" stroke-width="1.6" />
<line x1="87.8" y1="709.2" x2="87.8" y2="714.8" stroke="#141414" stroke-width="1.6" />
<text x="87.8" y="731.1" font-size="17.3" text-anchor="middle" fill="#141414" stroke="#141414" stroke-width="0.3" >0</text>
<line x1="239.8" y1="709.2" x2="239.8" y2="714.8" stroke="#141414" stroke-width="1.6" />
<text x="239.8" y="731.1" font-size="17.3" text-anchor="middle" fill="#141414" stroke="#141414" stroke-width="0.3" >1</text>
<line x1="391.8" y1="709.2" x2="391.8" y2="714.8" stroke="#141414" stroke-width="1.6" />
<text x="391.8" y="731.1" font-size="17.3" text-anchor="middle" fill="#141414" stroke="#141414" stroke-width="0.3" >2</text>
<line x1="163.8" y1="709.2" x2="163.8" y2="711.8" stroke="#141414" stroke-width="1.6" />
<line x1="315.8" y1="709.2" x2="315.8" y2="711.8" stroke="#141414" stroke-width="1.6" />
<text x="193.9" y="764.5" font-size="21.4" text-anchor="start" fill="#141414" stroke="#141414" stroke-width="0.3" >J (A cm<tspan font-size="14.5" dy="-8.4">-2</tspan><tspan dy="8.4" dx="1.2">)</tspan></text>
<text transform="translate(43,556.45) rotate(-90)" font-size="21.4" text-anchor="middle" fill="#141414" stroke="#141414" stroke-width="0.3">Cell Overpotential (V)</text>
<text x="152.8" y="425.2" font-size="17.6" text-anchor="start" fill="#141414" stroke="#141414" stroke-width="0.3" >Thermodynamic overpotential</text>
<text x="229.4" y="449.2" font-size="17.6" text-anchor="start" fill="#141414" stroke="#141414" stroke-width="0.3" >Ohmic overpotential</text>
<text x="203.6" y="502.3" font-size="17.6" text-anchor="start" fill="#141414" stroke="#141414" stroke-width="0.3" >Activation overpotential</text>
<text x="98.9" y="694.8" font-size="17.6" text-anchor="start" fill="#c1131b" stroke="#c1131b" stroke-width="0.3" >Cl-Pt/LDH / NiFe-LDH</text>
<text x="415.3" y="444.1" font-size="46.5" text-anchor="start" fill="#231815" stroke="#231815" stroke-width="0" >e</text>
<path d="M502.3,433.09 L806.9,493.9 L806.9,589.26 L806.9,589.26 L806.3,589.13 L805.3,588.97 L804.3,588.79 L803.3,588.58 L802.3,588.35 L801.3,588.12 L800.3,587.87 L799.3,587.62 L798.3,587.37 L797.3,587.11 L796.3,586.85 L795.3,586.59 L794.3,586.33 L793.3,586.06 L792.3,585.79 L791.3,585.52 L790.3,585.25 L789.3,584.98 L788.3,584.7 L787.3,584.43 L786.3,584.14 L785.3,583.86 L784.3,583.57 L783.3,583.28 L782.3,582.98 L781.3,582.69 L780.3,582.39 L779.3,582.08 L778.3,581.78 L777.3,581.48 L776.3,581.17 L775.3,580.87 L774.3,580.57 L773.3,580.26 L772.3,579.97 L771.3,579.67 L770.3,579.38 L769.3,579.08 L768.3,578.8 L767.3,578.51 L766.3,578.23 L765.3,577.95 L764.3,577.67 L763.3,577.39 L762.3,577.11 L761.3,576.84 L760.3,576.56 L759.3,576.29 L758.3,576.01 L757.3,575.74 L756.3,575.46 L755.3,575.18 L754.3,574.91 L753.3,574.63 L752.3,574.35 L751.3,574.08 L750.3,573.8 L749.3,573.52 L748.3,573.24 L747.3,572.96 L746.3,572.68 L745.3,572.4 L744.3,572.12 L743.3,571.84 L742.3,571.56 L741.3,571.28 L740.3,571 L739.3,570.71 L738.3,570.43 L737.3,570.14 L736.3,569.86 L735.3,569.57 L734.3,569.28 L733.3,568.99 L732.3,568.7 L731.3,568.41 L730.3,568.11 L729.3,567.82 L728.3,567.53 L727.3,567.23 L726.3,566.93 L725.3,566.63 L724.3,566.33 L723.3,566.03 L722.3,565.72 L721.3,565.41 L720.3,565.1 L719.3,564.79 L718.3,564.47 L717.3,564.14 L716.3,563.82 L715.3,563.48 L714.3,563.14 L713.3,562.8 L712.3,562.46 L711.3,562.11 L710.3,561.75 L709.3,561.4 L708.3,561.05 L707.3,560.7 L706.3,560.34 L705.3,560 L704.3,559.65 L703.3,559.31 L702.3,558.98 L701.3,558.65 L700.3,558.33 L699.3,558.01 L698.3,557.7 L697.3,557.39 L696.3,557.09 L695.3,556.79 L694.3,556.5 L693.3,556.21 L692.3,555.92 L691.3,555.64 L690.3,555.35 L689.3,555.07 L688.3,554.79 L687.3,554.51 L686.3,554.22 L685.3,553.94 L684.3,553.65 L683.3,553.36 L682.3,553.07 L681.3,552.77 L680.3,552.48 L679.3,552.18 L678.3,551.87 L677.3,551.57 L676.3,551.26 L675.3,550.95 L674.3,550.64 L673.3,550.32 L672.3,550.01 L671.3,549.69 L670.3,549.37 L669.3,549.06 L668.3,548.74 L667.3,548.42 L666.3,548.1 L665.3,547.78 L664.3,547.47 L663.3,547.15 L662.3,546.83 L661.3,546.51 L660.3,546.2 L659.3,545.88 L658.3,545.56 L657.3,545.25 L656.3,544.93 L655.3,544.61 L654.3,544.3 L653.3,543.98 L652.3,543.66 L651.3,543.35 L650.3,543.03 L649.3,542.71 L648.3,542.4 L647.3,542.08 L646.3,541.77 L645.3,541.45 L644.3,541.14 L643.3,540.83 L642.3,540.52 L641.3,540.21 L640.3,539.9 L639.3,539.6 L638.3,539.29 L637.3,538.99 L636.3,538.69 L635.3,538.39 L634.3,538.1 L633.3,537.8 L632.3,537.51 L631.3,537.21 L630.3,536.92 L629.3,536.63 L628.3,536.33 L627.3,536.04 L626.3,535.74 L625.3,535.44 L624.3,535.14 L623.3,534.84 L622.3,534.53 L621.3,534.22 L620.3,533.91 L619.3,533.59 L618.3,533.27 L617.3,532.94 L616.3,532.61 L615.3,532.28 L614.3,531.94 L613.3,531.59 L612.3,531.25 L611.3,530.9 L610.3,530.54 L609.3,530.18 L608.3,529.82 L607.3,529.45 L606.3,529.08 L605.3,528.71 L604.3,528.34 L603.3,527.96 L602.3,527.58 L601.3,527.2 L600.3,526.82 L599.3,526.43 L598.3,526.05 L597.3,525.66 L596.3,525.26 L595.3,524.87 L594.3,524.47 L593.3,524.07 L592.3,523.67 L591.3,523.27 L590.3,522.86 L589.3,522.45 L588.3,522.04 L587.3,521.62 L586.3,521.2 L585.3,520.78 L584.3,520.35 L583.3,519.92 L582.3,519.49 L581.3,519.05 L580.3,518.61 L579.3,518.16 L578.3,517.72 L577.3,517.27 L576.3,516.81 L575.3,516.36 L574.3,515.9 L573.3,515.44 L572.3,514.97 L571.3,514.5 L570.3,514.02 L569.3,513.54 L568.3,513.05 L567.3,512.56 L566.3,512.06 L565.3,511.56 L564.3,511.05 L563.3,510.53 L562.3,510 L561.3,509.46 L560.3,508.9 L559.3,508.34 L558.3,507.76 L557.3,507.18 L556.3,506.58 L555.3,505.97 L554.3,505.36 L553.3,504.74 L552.3,504.13 L551.3,503.51 L550.3,502.9 L549.3,502.29 L548.3,501.69 L547.3,501.08 L546.3,500.48 L545.3,499.88 L544.3,499.28 L543.3,498.68 L542.3,498.08 L541.3,497.47 L540.3,496.86 L539.3,496.25 L538.3,495.64 L537.3,495.02 L536.3,494.4 L535.3,493.78 L534.3,493.15 L533.3,492.53 L532.3,491.89 L531.3,491.25 L530.3,490.61 L529.3,489.95 L528.3,489.28 L527.3,488.61 L526.3,487.92 L525.3,487.22 L524.3,486.51 L523.3,485.78 L522.3,485.05 L521.3,484.3 L520.3,483.53 L519.3,482.75 L518.3,481.95 L517.3,481.13 L516.3,480.29 L515.3,479.43 L514.3,478.53 L513.3,477.6 L512.3,476.64 L511.3,475.63 L510.3,474.57 L509.3,473.46 L508.3,472.29 L507.3,471.07 L506.3,469.83 L505.3,468.6 L504.3,467.42 L503.3,466.37 L502.3,465.47 Z" fill="#fffcd3"/>
<path d="M502.3,433.09 L806.9,433.09 L806.9,493.9 Z" fill="#dcf0f4"/>
<line x1="502.3" y1="433.09" x2="806.9" y2="493.9" stroke="#5cf4fa" stroke-width="1.8" />
<path d="M502.3,465.47 L503.3,466.37 L504.3,467.42 L505.3,468.6 L506.3,469.83 L507.3,471.07 L508.3,472.29 L509.3,473.46 L510.3,474.57 L511.3,475.63 L512.3,476.64 L513.3,477.6 L514.3,478.53 L515.3,479.43 L516.3,480.29 L517.3,481.13 L518.3,481.95 L519.3,482.75 L520.3,483.53 L521.3,484.3 L522.3,485.05 L523.3,485.78 L524.3,486.51 L525.3,487.22 L526.3,487.92 L527.3,488.61 L528.3,489.28 L529.3,489.95 L530.3,490.61 L531.3,491.25 L532.3,491.89 L533.3,492.53 L534.3,493.15 L535.3,493.78 L536.3,494.4 L537.3,495.02 L538.3,495.64 L539.3,496.25 L540.3,496.86 L541.3,497.47 L542.3,498.08 L543.3,498.68 L544.3,499.28 L545.3,499.88 L546.3,500.48 L547.3,501.08 L548.3,501.69 L549.3,502.29 L550.3,502.9 L551.3,503.51 L552.3,504.13 L553.3,504.74 L554.3,505.36 L555.3,505.97 L556.3,506.58 L557.3,507.18 L558.3,507.76 L559.3,508.34 L560.3,508.9 L561.3,509.46 L562.3,510 L563.3,510.53 L564.3,511.05 L565.3,511.56 L566.3,512.06 L567.3,512.56 L568.3,513.05 L569.3,513.54 L570.3,514.02 L571.3,514.5 L572.3,514.97 L573.3,515.44 L574.3,515.9 L575.3,516.36 L576.3,516.81 L577.3,517.27 L578.3,517.72 L579.3,518.16 L580.3,518.61 L581.3,519.05 L582.3,519.49 L583.3,519.92 L584.3,520.35 L585.3,520.78 L586.3,521.2 L587.3,521.62 L588.3,522.04 L589.3,522.45 L590.3,522.86 L591.3,523.27 L592.3,523.67 L593.3,524.07 L594.3,524.47 L595.3,524.87 L596.3,525.26 L597.3,525.66 L598.3,526.05 L599.3,526.43 L600.3,526.82 L601.3,527.2 L602.3,527.58 L603.3,527.96 L604.3,528.34 L605.3,528.71 L606.3,529.08 L607.3,529.45 L608.3,529.82 L609.3,530.18 L610.3,530.54 L611.3,530.9 L612.3,531.25 L613.3,531.59 L614.3,531.94 L615.3,532.28 L616.3,532.61 L617.3,532.94 L618.3,533.27 L619.3,533.59 L620.3,533.91 L621.3,534.22 L622.3,534.53 L623.3,534.84 L624.3,535.14 L625.3,535.44 L626.3,535.74 L627.3,536.04 L628.3,536.33 L629.3,536.63 L630.3,536.92 L631.3,537.21 L632.3,537.51 L633.3,537.8 L634.3,538.1 L635.3,538.39 L636.3,538.69 L637.3,538.99 L638.3,539.29 L639.3,539.6 L640.3,539.9 L641.3,540.21 L642.3,540.52 L643.3,540.83 L644.3,541.14 L645.3,541.45 L646.3,541.77 L647.3,542.08 L648.3,542.4 L649.3,542.71 L650.3,543.03 L651.3,543.35 L652.3,543.66 L653.3,543.98 L654.3,544.3 L655.3,544.61 L656.3,544.93 L657.3,545.25 L658.3,545.56 L659.3,545.88 L660.3,546.2 L661.3,546.51 L662.3,546.83 L663.3,547.15 L664.3,547.47 L665.3,547.78 L666.3,548.1 L667.3,548.42 L668.3,548.74 L669.3,549.06 L670.3,549.37 L671.3,549.69 L672.3,550.01 L673.3,550.32 L674.3,550.64 L675.3,550.95 L676.3,551.26 L677.3,551.57 L678.3,551.87 L679.3,552.18 L680.3,552.48 L681.3,552.77 L682.3,553.07 L683.3,553.36 L684.3,553.65 L685.3,553.94 L686.3,554.22 L687.3,554.51 L688.3,554.79 L689.3,555.07 L690.3,555.35 L691.3,555.64 L692.3,555.92 L693.3,556.21 L694.3,556.5 L695.3,556.79 L696.3,557.09 L697.3,557.39 L698.3,557.7 L699.3,558.01 L700.3,558.33 L701.3,558.65 L702.3,558.98 L703.3,559.31 L704.3,559.65 L705.3,560 L706.3,560.34 L707.3,560.7 L708.3,561.05 L709.3,561.4 L710.3,561.75 L711.3,562.11 L712.3,562.46 L713.3,562.8 L714.3,563.14 L715.3,563.48 L716.3,563.82 L717.3,564.14 L718.3,564.47 L719.3,564.79 L720.3,565.1 L721.3,565.41 L722.3,565.72 L723.3,566.03 L724.3,566.33 L725.3,566.63 L726.3,566.93 L727.3,567.23 L728.3,567.53 L729.3,567.82 L730.3,568.11 L731.3,568.41 L732.3,568.7 L733.3,568.99 L734.3,569.28 L735.3,569.57 L736.3,569.86 L737.3,570.14 L738.3,570.43 L739.3,570.71 L740.3,571 L741.3,571.28 L742.3,571.56 L743.3,571.84 L744.3,572.12 L745.3,572.4 L746.3,572.68 L747.3,572.96 L748.3,573.24 L749.3,573.52 L750.3,573.8 L751.3,574.08 L752.3,574.35 L753.3,574.63 L754.3,574.91 L755.3,575.18 L756.3,575.46 L757.3,575.74 L758.3,576.01 L759.3,576.29 L760.3,576.56 L761.3,576.84 L762.3,577.11 L763.3,577.39 L764.3,577.67 L765.3,577.95 L766.3,578.23 L767.3,578.51 L768.3,578.8 L769.3,579.08 L770.3,579.38 L771.3,579.67 L772.3,579.97 L773.3,580.26 L774.3,580.57 L775.3,580.87 L776.3,581.17 L777.3,581.48 L778.3,581.78 L779.3,582.08 L780.3,582.39 L781.3,582.69 L782.3,582.98 L783.3,583.28 L784.3,583.57 L785.3,583.86 L786.3,584.14 L787.3,584.43 L788.3,584.7 L789.3,584.98 L790.3,585.25 L791.3,585.52 L792.3,585.79 L793.3,586.06 L794.3,586.33 L795.3,586.59 L796.3,586.85 L797.3,587.11 L798.3,587.37 L799.3,587.62 L800.3,587.87 L801.3,588.12 L802.3,588.35 L803.3,588.58 L804.3,588.79 L805.3,588.97 L806.3,589.13 L806.9,589.26" fill="none" stroke="#c8121b" stroke-width="1.8" stroke-linejoin="round"/>
<line x1="503" y1="433.09" x2="806.9" y2="433.09" stroke="#141414" stroke-width="2" stroke-dasharray="4.5 3.2"/>
<rect x="502.3" y="405.4" width="304.6" height="304.6" fill="none" stroke="#141414" stroke-width="2"/>
<line x1="502.3" y1="433.09" x2="496.7" y2="433.09" stroke="#141414" stroke-width="1.6" />
<text x="494.3" y="438.59" font-size="17.3" text-anchor="end" fill="#141414" stroke="#141414" stroke-width="0.3" >0.0</text>
<line x1="502.3" y1="488.47" x2="496.7" y2="488.47" stroke="#141414" stroke-width="1.6" />
<text x="494.3" y="493.97" font-size="17.3" text-anchor="end" fill="#141414" stroke="#141414" stroke-width="0.3" >0.4</text>
<line x1="502.3" y1="543.85" x2="496.7" y2="543.85" stroke="#141414" stroke-width="1.6" />
<text x="494.3" y="549.35" font-size="17.3" text-anchor="end" fill="#141414" stroke="#141414" stroke-width="0.3" >0.8</text>
<line x1="502.3" y1="599.24" x2="496.7" y2="599.24" stroke="#141414" stroke-width="1.6" />
<text x="494.3" y="604.74" font-size="17.3" text-anchor="end" fill="#141414" stroke="#141414" stroke-width="0.3" >1.2</text>
<line x1="502.3" y1="654.62" x2="496.7" y2="654.62" stroke="#141414" stroke-width="1.6" />
<text x="494.3" y="660.12" font-size="17.3" text-anchor="end" fill="#141414" stroke="#141414" stroke-width="0.3" >1.6</text>
<line x1="502.3" y1="710" x2="496.7" y2="710" stroke="#141414" stroke-width="1.6" />
<text x="494.3" y="715.5" font-size="17.3" text-anchor="end" fill="#141414" stroke="#141414" stroke-width="0.3" >2.0</text>
<line x1="502.3" y1="405.4" x2="499.7" y2="405.4" stroke="#141414" stroke-width="1.6" />
<line x1="502.3" y1="460.78" x2="499.7" y2="460.78" stroke="#141414" stroke-width="1.6" />
<line x1="502.3" y1="516.16" x2="499.7" y2="516.16" stroke="#141414" stroke-width="1.6" />
<line x1="502.3" y1="571.55" x2="499.7" y2="571.55" stroke="#141414" stroke-width="1.6" />
<line x1="502.3" y1="626.93" x2="499.7" y2="626.93" stroke="#141414" stroke-width="1.6" />
<line x1="502.3" y1="682.31" x2="499.7" y2="682.31" stroke="#141414" stroke-width="1.6" />
<line x1="502.3" y1="710" x2="502.3" y2="715.6" stroke="#141414" stroke-width="1.6" />
<text x="502.3" y="731.9" font-size="17.3" text-anchor="middle" fill="#141414" stroke="#141414" stroke-width="0.3" >0</text>
<line x1="654.6" y1="710" x2="654.6" y2="715.6" stroke="#141414" stroke-width="1.6" />
<text x="654.6" y="731.9" font-size="17.3" text-anchor="middle" fill="#141414" stroke="#141414" stroke-width="0.3" >1</text>
<line x1="806.9" y1="710" x2="806.9" y2="715.6" stroke="#141414" stroke-width="1.6" />
<text x="806.9" y="731.9" font-size="17.3" text-anchor="middle" fill="#141414" stroke="#141414" stroke-width="0.3" >2</text>
<line x1="578.45" y1="710" x2="578.45" y2="712.6" stroke="#141414" stroke-width="1.6" />
<line x1="730.75" y1="710" x2="730.75" y2="712.6" stroke="#141414" stroke-width="1.6" />
<text x="608.7" y="766" font-size="21.4" text-anchor="start" fill="#141414" stroke="#141414" stroke-width="0.3" >J (A cm<tspan font-size="14.5" dy="-8.4">-2</tspan><tspan dy="8.4" dx="1.2">)</tspan></text>
<text transform="translate(457.5,557.35) rotate(-90)" font-size="21.4" text-anchor="middle" fill="#141414" stroke="#141414" stroke-width="0.3">Cell Overpotential (V)</text>
<text x="569.5" y="426.6" font-size="17.6" text-anchor="start" fill="#141414" stroke="#141414" stroke-width="0.3" >Thermodynamic overpotential</text>
<text x="641.7" y="451.3" font-size="17.6" text-anchor="start" fill="#141414" stroke="#141414" stroke-width="0.3" >Ohmic overpotential</text>
<text x="618" y="514.3" font-size="17.6" text-anchor="start" fill="#141414" stroke="#141414" stroke-width="0.3" >Activation overpotential</text>
<text x="513.2" y="695.2" font-size="17.6" text-anchor="start" fill="#267a46" stroke="#267a46" stroke-width="0.3" >Cl-Pt/LDH / Ir/C</text>
<text x="874.5" y="443.8" font-size="46.5" text-anchor="start" fill="#231815" stroke="#231815" stroke-width="0" >f</text>
<path d="M956.8,433.18 L1261,473.7 L1261,703.26 L1261,703.26 L1260.5,703.17 L1260,703.06 L1259.5,702.93 L1259,702.79 L1258.5,702.64 L1258,702.49 L1257.5,702.34 L1257,702.19 L1256.5,702.03 L1256,701.88 L1255.5,701.73 L1255,701.58 L1254.5,701.42 L1254,701.27 L1253.5,701.12 L1253,700.96 L1252.5,700.81 L1252,700.66 L1251.5,700.5 L1251,700.35 L1250.5,700.2 L1250,700.04 L1249.5,699.89 L1249,699.74 L1248.5,699.58 L1248,699.43 L1247.5,699.27 L1247,699.12 L1246.5,698.96 L1246,698.81 L1245.5,698.65 L1245,698.5 L1244.5,698.35 L1244,698.19 L1243.5,698.03 L1243,697.88 L1242.5,697.72 L1242,697.56 L1241.5,697.4 L1241,697.23 L1240.5,697.06 L1240,696.88 L1239.5,696.7 L1239,696.52 L1238.5,696.34 L1238,696.15 L1237.5,695.96 L1237,695.76 L1236.5,695.57 L1236,695.37 L1235.5,695.18 L1235,694.98 L1234.5,694.79 L1234,694.6 L1233.5,694.4 L1233,694.22 L1232.5,694.03 L1232,693.85 L1231.5,693.67 L1231,693.49 L1230.5,693.32 L1230,693.16 L1229.5,693 L1229,692.85 L1228.5,692.7 L1228,692.57 L1227.5,692.44 L1227,692.31 L1226.5,692.2 L1226,692.1 L1225.5,692.01 L1225,691.92 L1224.5,691.85 L1224,691.79 L1223.5,691.73 L1223,691.68 L1222.5,691.64 L1222,691.6 L1221.5,691.57 L1221,691.54 L1220.5,691.51 L1220,691.48 L1219.5,691.45 L1219,691.43 L1218.5,691.41 L1218,691.39 L1217.5,691.37 L1217,691.35 L1216.5,691.33 L1216,691.31 L1215.5,691.3 L1215,691.28 L1214.5,691.27 L1214,691.25 L1213.5,691.24 L1213,691.23 L1212.5,691.21 L1212,691.2 L1211.5,691.19 L1211,691.18 L1210.5,691.16 L1210,691.15 L1209.5,691.14 L1209,691.13 L1208.5,691.11 L1208,691.1 L1207.5,691.08 L1207,691.07 L1206.5,691.05 L1206,691.03 L1205.5,691.01 L1205,690.99 L1204.5,690.97 L1204,690.94 L1203.5,690.92 L1203,690.89 L1202.5,690.86 L1202,690.83 L1201.5,690.8 L1201,690.76 L1200.5,690.72 L1200,690.68 L1199.5,690.62 L1199,690.56 L1198.5,690.47 L1198,690.36 L1197.5,690.22 L1197,690.06 L1196.5,689.87 L1196,689.65 L1195.5,689.41 L1195,689.16 L1194.5,688.89 L1194,688.61 L1193.5,688.33 L1193,688.04 L1192.5,687.76 L1192,687.48 L1191.5,687.21 L1191,686.96 L1190.5,686.72 L1190,686.5 L1189.5,686.31 L1189,686.13 L1188.5,685.98 L1188,685.85 L1187.5,685.73 L1187,685.63 L1186.5,685.53 L1186,685.44 L1185.5,685.35 L1185,685.27 L1184.5,685.19 L1184,685.12 L1183.5,685.04 L1183,684.97 L1182.5,684.91 L1182,684.84 L1181.5,684.78 L1181,684.72 L1180.5,684.66 L1180,684.6 L1179.5,684.54 L1179,684.49 L1178.5,684.43 L1178,684.37 L1177.5,684.32 L1177,684.26 L1176.5,684.2 L1176,684.14 L1175.5,684.08 L1175,684.02 L1174.5,683.95 L1174,683.89 L1173.5,683.82 L1173,683.75 L1172.5,683.67 L1172,683.6 L1171.5,683.52 L1171,683.45 L1170.5,683.37 L1170,683.3 L1169.5,683.22 L1169,683.14 L1168.5,683.07 L1168,682.99 L1167.5,682.91 L1167,682.83 L1166.5,682.75 L1166,682.66 L1165.5,682.57 L1165,682.48 L1164.5,682.38 L1164,682.28 L1163.5,682.17 L1163,682.06 L1162.5,681.93 L1162,681.8 L1161.5,681.66 L1161,681.51 L1160.5,681.33 L1160,681.15 L1159.5,680.94 L1159,680.73 L1158.5,680.49 L1158,680.24 L1157.5,679.97 L1157,679.7 L1156.5,679.41 L1156,679.11 L1155.5,678.8 L1155,678.48 L1154.5,678.15 L1154,677.82 L1153.5,677.49 L1153,677.15 L1152.5,676.8 L1152,676.46 L1151.5,676.11 L1151,675.77 L1150.5,675.42 L1150,675.08 L1149.5,674.74 L1149,674.4 L1148.5,674.07 L1148,673.73 L1147.5,673.39 L1147,673.05 L1146.5,672.7 L1146,672.35 L1145.5,672 L1145,671.64 L1144.5,671.28 L1144,670.91 L1143.5,670.55 L1143,670.18 L1142.5,669.8 L1142,669.43 L1141.5,669.05 L1141,668.67 L1140.5,668.28 L1140,667.89 L1139.5,667.51 L1139,667.12 L1138.5,666.72 L1138,666.33 L1137.5,665.93 L1137,665.54 L1136.5,665.14 L1136,664.74 L1135.5,664.34 L1135,663.94 L1134.5,663.54 L1134,663.15 L1133.5,662.75 L1133,662.36 L1132.5,661.97 L1132,661.57 L1131.5,661.19 L1131,660.8 L1130.5,660.41 L1130,660.02 L1129.5,659.63 L1129,659.24 L1128.5,658.85 L1128,658.46 L1127.5,658.06 L1127,657.66 L1126.5,657.26 L1126,656.86 L1125.5,656.45 L1125,656.04 L1124.5,655.62 L1124,655.2 L1123.5,654.77 L1123,654.33 L1122.5,653.89 L1122,653.44 L1121.5,652.99 L1121,652.52 L1120.5,652.05 L1120,651.57 L1119.5,651.08 L1119,650.58 L1118.5,650.07 L1118,649.55 L1117.5,649.02 L1117,648.48 L1116.5,647.92 L1116,647.34 L1115.5,646.75 L1115,646.13 L1114.5,645.49 L1114,644.82 L1113.5,644.14 L1113,643.43 L1112.5,642.69 L1112,641.94 L1111.5,641.18 L1111,640.39 L1110.5,639.59 L1110,638.78 L1109.5,637.96 L1109,637.12 L1108.5,636.28 L1108,635.43 L1107.5,634.57 L1107,633.71 L1106.5,632.85 L1106,631.99 L1105.5,631.12 L1105,630.26 L1104.5,629.41 L1104,628.56 L1103.5,627.71 L1103,626.87 L1102.5,626.04 L1102,625.2 L1101.5,624.37 L1101,623.54 L1100.5,622.71 L1100,621.87 L1099.5,621.03 L1099,620.18 L1098.5,619.32 L1098,618.47 L1097.5,617.61 L1097,616.75 L1096.5,615.89 L1096,615.03 L1095.5,614.17 L1095,613.31 L1094.5,612.45 L1094,611.6 L1093.5,610.75 L1093,609.91 L1092.5,609.07 L1092,608.24 L1091.5,607.42 L1091,606.6 L1090.5,605.8 L1090,605 L1089.5,604.22 L1089,603.44 L1088.5,602.68 L1088,601.93 L1087.5,601.19 L1087,600.47 L1086.5,599.75 L1086,599.04 L1085.5,598.34 L1085,597.64 L1084.5,596.96 L1084,596.28 L1083.5,595.6 L1083,594.93 L1082.5,594.27 L1082,593.61 L1081.5,592.95 L1081,592.3 L1080.5,591.65 L1080,591 L1079.5,590.36 L1079,589.71 L1078.5,589.07 L1078,588.42 L1077.5,587.78 L1077,587.13 L1076.5,586.48 L1076,585.83 L1075.5,585.17 L1075,584.51 L1074.5,583.85 L1074,583.19 L1073.5,582.52 L1073,581.84 L1072.5,581.17 L1072,580.48 L1071.5,579.8 L1071,579.11 L1070.5,578.43 L1070,577.74 L1069.5,577.05 L1069,576.35 L1068.5,575.66 L1068,574.98 L1067.5,574.29 L1067,573.6 L1066.5,572.92 L1066,572.24 L1065.5,571.56 L1065,570.89 L1064.5,570.22 L1064,569.56 L1063.5,568.91 L1063,568.26 L1062.5,567.61 L1062,566.98 L1061.5,566.35 L1061,565.74 L1060.5,565.13 L1060,564.54 L1059.5,563.95 L1059,563.38 L1058.5,562.81 L1058,562.26 L1057.5,561.71 L1057,561.17 L1056.5,560.63 L1056,560.1 L1055.5,559.55 L1055,559.01 L1054.5,558.46 L1054,557.9 L1053.5,557.34 L1053,556.76 L1052.5,556.18 L1052,555.6 L1051.5,555.01 L1051,554.41 L1050.5,553.81 L1050,553.2 L1049.5,552.59 L1049,551.98 L1048.5,551.36 L1048,550.74 L1047.5,550.12 L1047,549.49 L1046.5,548.87 L1046,548.24 L1045.5,547.61 L1045,546.99 L1044.5,546.36 L1044,545.73 L1043.5,545.1 L1043,544.48 L1042.5,543.85 L1042,543.23 L1041.5,542.61 L1041,541.99 L1040.5,541.38 L1040,540.77 L1039.5,540.16 L1039,539.56 L1038.5,538.97 L1038,538.37 L1037.5,537.79 L1037,537.21 L1036.5,536.63 L1036,536.07 L1035.5,535.51 L1035,534.95 L1034.5,534.41 L1034,533.87 L1033.5,533.34 L1033,532.82 L1032.5,532.3 L1032,531.79 L1031.5,531.29 L1031,530.79 L1030.5,530.29 L1030,529.8 L1029.5,529.32 L1029,528.83 L1028.5,528.35 L1028,527.88 L1027.5,527.41 L1027,526.94 L1026.5,526.47 L1026,526.01 L1025.5,525.55 L1025,525.09 L1024.5,524.64 L1024,524.19 L1023.5,523.74 L1023,523.3 L1022.5,522.85 L1022,522.41 L1021.5,521.97 L1021,521.53 L1020.5,521.1 L1020,520.66 L1019.5,520.23 L1019,519.8 L1018.5,519.37 L1018,518.94 L1017.5,518.51 L1017,518.09 L1016.5,517.66 L1016,517.24 L1015.5,516.81 L1015,516.39 L1014.5,515.96 L1014,515.54 L1013.5,515.12 L1013,514.69 L1012.5,514.27 L1012,513.85 L1011.5,513.43 L1011,513.01 L1010.5,512.59 L1010,512.17 L1009.5,511.76 L1009,511.34 L1008.5,510.93 L1008,510.52 L1007.5,510.11 L1007,509.7 L1006.5,509.3 L1006,508.89 L1005.5,508.49 L1005,508.08 L1004.5,507.68 L1004,507.28 L1003.5,506.88 L1003,506.48 L1002.5,506.08 L1002,505.69 L1001.5,505.29 L1001,504.9 L1000.5,504.5 L1000,504.11 L999.5,503.72 L999,503.32 L998.5,502.93 L998,502.54 L997.5,502.15 L997,501.76 L996.5,501.37 L996,500.98 L995.5,500.6 L995,500.21 L994.5,499.82 L994,499.43 L993.5,499.05 L993,498.66 L992.5,498.27 L992,497.89 L991.5,497.51 L991,497.13 L990.5,496.75 L990,496.37 L989.5,496 L989,495.64 L988.5,495.27 L988,494.91 L987.5,494.55 L987,494.2 L986.5,493.85 L986,493.49 L985.5,493.14 L985,492.8 L984.5,492.45 L984,492.1 L983.5,491.75 L983,491.41 L982.5,491.06 L982,490.71 L981.5,490.36 L981,490.01 L980.5,489.66 L980,489.3 L979.5,488.94 L979,488.58 L978.5,488.22 L978,487.85 L977.5,487.48 L977,487.1 L976.5,486.73 L976,486.34 L975.5,485.95 L975,485.56 L974.5,485.16 L974,484.75 L973.5,484.33 L973,483.91 L972.5,483.49 L972,483.06 L971.5,482.62 L971,482.18 L970.5,481.74 L970,481.3 L969.5,480.86 L969,480.42 L968.5,479.99 L968,479.54 L967.5,479.09 L967,478.63 L966.5,478.15 L966,477.66 L965.5,477.13 L965,476.58 L964.5,476 L964,475.39 L963.5,474.73 L963,474.03 L962.5,473.29 L962,472.51 L961.5,471.66 L961,470.69 L960.5,469.51 L960,467.94 L959.5,465.7 L959,462.54 L958.5,458.32 L958,453.21 L957.5,447.78 L957,442.74 Z" fill="#fffcd3"/>
<path d="M956.8,433.18 L1261,433.18 L1261,473.7 Z" fill="#dcf0f4"/>
<line x1="956.8" y1="433.18" x2="1261" y2="473.7" stroke="#5cf4fa" stroke-width="1.8" />
<path d="M957,442.74 L957.5,447.78 L958,453.21 L958.5,458.32 L959,462.54 L959.5,465.7 L960,467.94 L960.5,469.51 L961,470.69 L961.5,471.66 L962,472.51 L962.5,473.29 L963,474.03 L963.5,474.73 L964,475.39 L964.5,476 L965,476.58 L965.5,477.13 L966,477.66 L966.5,478.15 L967,478.63 L967.5,479.09 L968,479.54 L968.5,479.99 L969,480.42 L969.5,480.86 L970,481.3 L970.5,481.74 L971,482.18 L971.5,482.62 L972,483.06 L972.5,483.49 L973,483.91 L973.5,484.33 L974,484.75 L974.5,485.16 L975,485.56 L975.5,485.95 L976,486.34 L976.5,486.73 L977,487.1 L977.5,487.48 L978,487.85 L978.5,488.22 L979,488.58 L979.5,488.94 L980,489.3 L980.5,489.66 L981,490.01 L981.5,490.36 L982,490.71 L982.5,491.06 L983,491.41 L983.5,491.75 L984,492.1 L984.5,492.45 L985,492.8 L985.5,493.14 L986,493.49 L986.5,493.85 L987,494.2 L987.5,494.55 L988,494.91 L988.5,495.27 L989,495.64 L989.5,496 L990,496.37 L990.5,496.75 L991,497.13 L991.5,497.51 L992,497.89 L992.5,498.27 L993,498.66 L993.5,499.05 L994,499.43 L994.5,499.82 L995,500.21 L995.5,500.6 L996,500.98 L996.5,501.37 L997,501.76 L997.5,502.15 L998,502.54 L998.5,502.93 L999,503.32 L999.5,503.72 L1000,504.11 L1000.5,504.5 L1001,504.9 L1001.5,505.29 L1002,505.69 L1002.5,506.08 L1003,506.48 L1003.5,506.88 L1004,507.28 L1004.5,507.68 L1005,508.08 L1005.5,508.49 L1006,508.89 L1006.5,509.3 L1007,509.7 L1007.5,510.11 L1008,510.52 L1008.5,510.93 L1009,511.34 L1009.5,511.76 L1010,512.17 L1010.5,512.59 L1011,513.01 L1011.5,513.43 L1012,513.85 L1012.5,514.27 L1013,514.69 L1013.5,515.12 L1014,515.54 L1014.5,515.96 L1015,516.39 L1015.5,516.81 L1016,517.24 L1016.5,517.66 L1017,518.09 L1017.5,518.51 L1018,518.94 L1018.5,519.37 L1019,519.8 L1019.5,520.23 L1020,520.66 L1020.5,521.1 L1021,521.53 L1021.5,521.97 L1022,522.41 L1022.5,522.85 L1023,523.3 L1023.5,523.74 L1024,524.19 L1024.5,524.64 L1025,525.09 L1025.5,525.55 L1026,526.01 L1026.5,526.47 L1027,526.94 L1027.5,527.41 L1028,527.88 L1028.5,528.35 L1029,528.83 L1029.5,529.32 L1030,529.8 L1030.5,530.29 L1031,530.79 L1031.5,531.29 L1032,531.79 L1032.5,532.3 L1033,532.82 L1033.5,533.34 L1034,533.87 L1034.5,534.41 L1035,534.95 L1035.5,535.51 L1036,536.07 L1036.5,536.63 L1037,537.21 L1037.5,537.79 L1038,538.37 L1038.5,538.97 L1039,539.56 L1039.5,540.16 L1040,540.77 L1040.5,541.38 L1041,541.99 L1041.5,542.61 L1042,543.23 L1042.5,543.85 L1043,544.48 L1043.5,545.1 L1044,545.73 L1044.5,546.36 L1045,546.99 L1045.5,547.61 L1046,548.24 L1046.5,548.87 L1047,549.49 L1047.5,550.12 L1048,550.74 L1048.5,551.36 L1049,551.98 L1049.5,552.59 L1050,553.2 L1050.5,553.81 L1051,554.41 L1051.5,555.01 L1052,555.6 L1052.5,556.18 L1053,556.76 L1053.5,557.34 L1054,557.9 L1054.5,558.46 L1055,559.01 L1055.5,559.55 L1056,560.1 L1056.5,560.63 L1057,561.17 L1057.5,561.71 L1058,562.26 L1058.5,562.81 L1059,563.38 L1059.5,563.95 L1060,564.54 L1060.5,565.13 L1061,565.74 L1061.5,566.35 L1062,566.98 L1062.5,567.61 L1063,568.26 L1063.5,568.91 L1064,569.56 L1064.5,570.22 L1065,570.89 L1065.5,571.56 L1066,572.24 L1066.5,572.92 L1067,573.6 L1067.5,574.29 L1068,574.98 L1068.5,575.66 L1069,576.35 L1069.5,577.05 L1070,577.74 L1070.5,578.43 L1071,579.11 L1071.5,579.8 L1072,580.48 L1072.5,581.17 L1073,581.84 L1073.5,582.52 L1074,583.19 L1074.5,583.85 L1075,584.51 L1075.5,585.17 L1076,585.83 L1076.5,586.48 L1077,587.13 L1077.5,587.78 L1078,588.42 L1078.5,589.07 L1079,589.71 L1079.5,590.36 L1080,591 L1080.5,591.65 L1081,592.3 L1081.5,592.95 L1082,593.61 L1082.5,594.27 L1083,594.93 L1083.5,595.6 L1084,596.28 L1084.5,596.96 L1085,597.64 L1085.5,598.34 L1086,599.04 L1086.5,599.75 L1087,600.47 L1087.5,601.19 L1088,601.93 L1088.5,602.68 L1089,603.44 L1089.5,604.22 L1090,605 L1090.5,605.8 L1091,606.6 L1091.5,607.42 L1092,608.24 L1092.5,609.07 L1093,609.91 L1093.5,610.75 L1094,611.6 L1094.5,612.45 L1095,613.31 L1095.5,614.17 L1096,615.03 L1096.5,615.89 L1097,616.75 L1097.5,617.61 L1098,618.47 L1098.5,619.32 L1099,620.18 L1099.5,621.03 L1100,621.87 L1100.5,622.71 L1101,623.54 L1101.5,624.37 L1102,625.2 L1102.5,626.04 L1103,626.87 L1103.5,627.71 L1104,628.56 L1104.5,629.41 L1105,630.26 L1105.5,631.12 L1106,631.99 L1106.5,632.85 L1107,633.71 L1107.5,634.57 L1108,635.43 L1108.5,636.28 L1109,637.12 L1109.5,637.96 L1110,638.78 L1110.5,639.59 L1111,640.39 L1111.5,641.18 L1112,641.94 L1112.5,642.69 L1113,643.43 L1113.5,644.14 L1114,644.82 L1114.5,645.49 L1115,646.13 L1115.5,646.75 L1116,647.34 L1116.5,647.92 L1117,648.48 L1117.5,649.02 L1118,649.55 L1118.5,650.07 L1119,650.58 L1119.5,651.08 L1120,651.57 L1120.5,652.05 L1121,652.52 L1121.5,652.99 L1122,653.44 L1122.5,653.89 L1123,654.33 L1123.5,654.77 L1124,655.2 L1124.5,655.62 L1125,656.04 L1125.5,656.45 L1126,656.86 L1126.5,657.26 L1127,657.66 L1127.5,658.06 L1128,658.46 L1128.5,658.85 L1129,659.24 L1129.5,659.63 L1130,660.02 L1130.5,660.41 L1131,660.8 L1131.5,661.19 L1132,661.57 L1132.5,661.97 L1133,662.36 L1133.5,662.75 L1134,663.15 L1134.5,663.54 L1135,663.94 L1135.5,664.34 L1136,664.74 L1136.5,665.14 L1137,665.54 L1137.5,665.93 L1138,666.33 L1138.5,666.72 L1139,667.12 L1139.5,667.51 L1140,667.89 L1140.5,668.28 L1141,668.67 L1141.5,669.05 L1142,669.43 L1142.5,669.8 L1143,670.18 L1143.5,670.55 L1144,670.91 L1144.5,671.28 L1145,671.64 L1145.5,672 L1146,672.35 L1146.5,672.7 L1147,673.05 L1147.5,673.39 L1148,673.73 L1148.5,674.07 L1149,674.4 L1149.5,674.74 L1150,675.08 L1150.5,675.42 L1151,675.77 L1151.5,676.11 L1152,676.46 L1152.5,676.8 L1153,677.15 L1153.5,677.49 L1154,677.82 L1154.5,678.15 L1155,678.48 L1155.5,678.8 L1156,679.11 L1156.5,679.41 L1157,679.7 L1157.5,679.97 L1158,680.24 L1158.5,680.49 L1159,680.73 L1159.5,680.94 L1160,681.15 L1160.5,681.33 L1161,681.51 L1161.5,681.66 L1162,681.8 L1162.5,681.93 L1163,682.06 L1163.5,682.17 L1164,682.28 L1164.5,682.38 L1165,682.48 L1165.5,682.57 L1166,682.66 L1166.5,682.75 L1167,682.83 L1167.5,682.91 L1168,682.99 L1168.5,683.07 L1169,683.14 L1169.5,683.22 L1170,683.3 L1170.5,683.37 L1171,683.45 L1171.5,683.52 L1172,683.6 L1172.5,683.67 L1173,683.75 L1173.5,683.82 L1174,683.89 L1174.5,683.95 L1175,684.02 L1175.5,684.08 L1176,684.14 L1176.5,684.2 L1177,684.26 L1177.5,684.32 L1178,684.37 L1178.5,684.43 L1179,684.49 L1179.5,684.54 L1180,684.6 L1180.5,684.66 L1181,684.72 L1181.5,684.78 L1182,684.84 L1182.5,684.91 L1183,684.97 L1183.5,685.04 L1184,685.12 L1184.5,685.19 L1185,685.27 L1185.5,685.35 L1186,685.44 L1186.5,685.53 L1187,685.63 L1187.5,685.73 L1188,685.85 L1188.5,685.98 L1189,686.13 L1189.5,686.31 L1190,686.5 L1190.5,686.72 L1191,686.96 L1191.5,687.21 L1192,687.48 L1192.5,687.76 L1193,688.04 L1193.5,688.33 L1194,688.61 L1194.5,688.89 L1195,689.16 L1195.5,689.41 L1196,689.65 L1196.5,689.87 L1197,690.06 L1197.5,690.22 L1198,690.36 L1198.5,690.47 L1199,690.56 L1199.5,690.62 L1200,690.68 L1200.5,690.72 L1201,690.76 L1201.5,690.8 L1202,690.83 L1202.5,690.86 L1203,690.89 L1203.5,690.92 L1204,690.94 L1204.5,690.97 L1205,690.99 L1205.5,691.01 L1206,691.03 L1206.5,691.05 L1207,691.07 L1207.5,691.08 L1208,691.1 L1208.5,691.11 L1209,691.13 L1209.5,691.14 L1210,691.15 L1210.5,691.16 L1211,691.18 L1211.5,691.19 L1212,691.2 L1212.5,691.21 L1213,691.23 L1213.5,691.24 L1214,691.25 L1214.5,691.27 L1215,691.28 L1215.5,691.3 L1216,691.31 L1216.5,691.33 L1217,691.35 L1217.5,691.37 L1218,691.39 L1218.5,691.41 L1219,691.43 L1219.5,691.45 L1220,691.48 L1220.5,691.51 L1221,691.54 L1221.5,691.57 L1222,691.6 L1222.5,691.64 L1223,691.68 L1223.5,691.73 L1224,691.79 L1224.5,691.85 L1225,691.92 L1225.5,692.01 L1226,692.1 L1226.5,692.2 L1227,692.31 L1227.5,692.44 L1228,692.57 L1228.5,692.7 L1229,692.85 L1229.5,693 L1230,693.16 L1230.5,693.32 L1231,693.49 L1231.5,693.67 L1232,693.85 L1232.5,694.03 L1233,694.22 L1233.5,694.4 L1234,694.6 L1234.5,694.79 L1235,694.98 L1235.5,695.18 L1236,695.37 L1236.5,695.57 L1237,695.76 L1237.5,695.96 L1238,696.15 L1238.5,696.34 L1239,696.52 L1239.5,696.7 L1240,696.88 L1240.5,697.06 L1241,697.23 L1241.5,697.4 L1242,697.56 L1242.5,697.72 L1243,697.88 L1243.5,698.03 L1244,698.19 L1244.5,698.35 L1245,698.5 L1245.5,698.65 L1246,698.81 L1246.5,698.96 L1247,699.12 L1247.5,699.27 L1248,699.43 L1248.5,699.58 L1249,699.74 L1249.5,699.89 L1250,700.04 L1250.5,700.2 L1251,700.35 L1251.5,700.5 L1252,700.66 L1252.5,700.81 L1253,700.96 L1253.5,701.12 L1254,701.27 L1254.5,701.42 L1255,701.58 L1255.5,701.73 L1256,701.88 L1256.5,702.03 L1257,702.19 L1257.5,702.34 L1258,702.49 L1258.5,702.64 L1259,702.79 L1259.5,702.93 L1260,703.06 L1260.5,703.17 L1261,703.26" fill="none" stroke="#c8121b" stroke-width="1.8" stroke-linejoin="round"/>
<line x1="957.5" y1="433.18" x2="1261" y2="433.18" stroke="#141414" stroke-width="2" stroke-dasharray="4.5 3.2"/>
<rect x="956.8" y="405.5" width="304.2" height="304.5" fill="none" stroke="#141414" stroke-width="2"/>
<line x1="956.8" y1="433.18" x2="951.2" y2="433.18" stroke="#141414" stroke-width="1.6" />
<text x="948.8" y="438.68" font-size="17.3" text-anchor="end" fill="#141414" stroke="#141414" stroke-width="0.3" >0.0</text>
<line x1="956.8" y1="488.55" x2="951.2" y2="488.55" stroke="#141414" stroke-width="1.6" />
<text x="948.8" y="494.05" font-size="17.3" text-anchor="end" fill="#141414" stroke="#141414" stroke-width="0.3" >0.4</text>
<line x1="956.8" y1="543.91" x2="951.2" y2="543.91" stroke="#141414" stroke-width="1.6" />
<text x="948.8" y="549.41" font-size="17.3" text-anchor="end" fill="#141414" stroke="#141414" stroke-width="0.3" >0.8</text>
<line x1="956.8" y1="599.27" x2="951.2" y2="599.27" stroke="#141414" stroke-width="1.6" />
<text x="948.8" y="604.77" font-size="17.3" text-anchor="end" fill="#141414" stroke="#141414" stroke-width="0.3" >1.2</text>
<line x1="956.8" y1="654.64" x2="951.2" y2="654.64" stroke="#141414" stroke-width="1.6" />
<text x="948.8" y="660.14" font-size="17.3" text-anchor="end" fill="#141414" stroke="#141414" stroke-width="0.3" >1.6</text>
<line x1="956.8" y1="710" x2="951.2" y2="710" stroke="#141414" stroke-width="1.6" />
<text x="948.8" y="715.5" font-size="17.3" text-anchor="end" fill="#141414" stroke="#141414" stroke-width="0.3" >2.0</text>
<line x1="956.8" y1="405.5" x2="954.2" y2="405.5" stroke="#141414" stroke-width="1.6" />
<line x1="956.8" y1="460.86" x2="954.2" y2="460.86" stroke="#141414" stroke-width="1.6" />
<line x1="956.8" y1="516.23" x2="954.2" y2="516.23" stroke="#141414" stroke-width="1.6" />
<line x1="956.8" y1="571.59" x2="954.2" y2="571.59" stroke="#141414" stroke-width="1.6" />
<line x1="956.8" y1="626.95" x2="954.2" y2="626.95" stroke="#141414" stroke-width="1.6" />
<line x1="956.8" y1="682.32" x2="954.2" y2="682.32" stroke="#141414" stroke-width="1.6" />
<line x1="956.8" y1="710" x2="956.8" y2="715.6" stroke="#141414" stroke-width="1.6" />
<text x="956.8" y="731.9" font-size="17.3" text-anchor="middle" fill="#141414" stroke="#141414" stroke-width="0.3" >0</text>
<line x1="1108.9" y1="710" x2="1108.9" y2="715.6" stroke="#141414" stroke-width="1.6" />
<text x="1108.9" y="731.9" font-size="17.3" text-anchor="middle" fill="#141414" stroke="#141414" stroke-width="0.3" >1</text>
<line x1="1261" y1="710" x2="1261" y2="715.6" stroke="#141414" stroke-width="1.6" />
<text x="1261" y="731.9" font-size="17.3" text-anchor="middle" fill="#141414" stroke="#141414" stroke-width="0.3" >2</text>
<line x1="1032.85" y1="710" x2="1032.85" y2="712.6" stroke="#141414" stroke-width="1.6" />
<line x1="1184.95" y1="710" x2="1184.95" y2="712.6" stroke="#141414" stroke-width="1.6" />
<text x="1062.8" y="765.5" font-size="21.4" text-anchor="start" fill="#141414" stroke="#141414" stroke-width="0.3" >J (A cm<tspan font-size="14.5" dy="-8.4">-2</tspan><tspan dy="8.4" dx="1.2">)</tspan></text>
<text transform="translate(912,557.39) rotate(-90)" font-size="21.4" text-anchor="middle" fill="#141414" stroke="#141414" stroke-width="0.3">Cell Overpotential (V)</text>
<text x="1024.1" y="425.9" font-size="17.6" text-anchor="start" fill="#141414" stroke="#141414" stroke-width="0.3" >Thermodynamic overpotential</text>
<text x="1094.3" y="451.5" font-size="17.6" text-anchor="start" fill="#141414" stroke="#141414" stroke-width="0.3" >Ohmic overpotential</text>
<text x="1067.7" y="538" font-size="17.6" text-anchor="start" fill="#141414" stroke="#141414" stroke-width="0.3" >Activation overpotential</text>
<text x="967.5" y="695.4" font-size="17.6" text-anchor="start" fill="#141414" stroke="#141414" stroke-width="0.3" >Pt/C / Ir/C</text>
</svg></body></html>
